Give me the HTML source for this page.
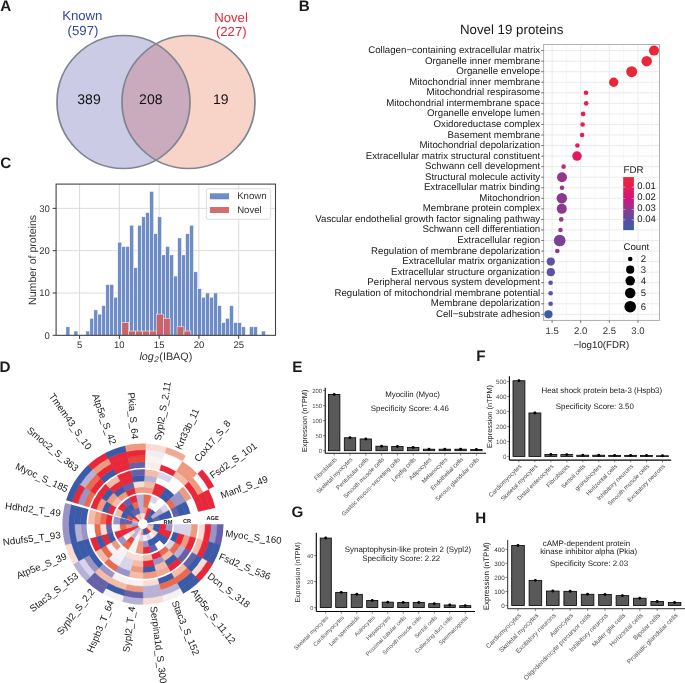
<!DOCTYPE html>
<html><head><meta charset="utf-8"><style>
html,body{margin:0;padding:0;background:#fff;width:685px;height:683px;overflow:hidden}
svg{display:block;font-family:"Liberation Sans", sans-serif;will-change:transform;text-rendering:geometricPrecision}
</style></head><body>
<svg width="685" height="683" viewBox="0 0 685 683">
<defs><clipPath id="cL"><circle cx="123.5" cy="102.0" r="66.5"/></clipPath></defs>
<circle cx="123.5" cy="102.0" r="66.5" fill="#cbcbe6"/>
<circle cx="188.5" cy="102.0" r="66.5" fill="#f8d3c8"/>
<circle cx="188.5" cy="102.0" r="66.5" fill="#c9abbd" clip-path="url(#cL)"/>
<circle cx="123.5" cy="102.0" r="66.5" fill="none" stroke="#7d8590" stroke-width="1.7"/>
<circle cx="188.5" cy="102.0" r="66.5" fill="none" stroke="#7d8590" stroke-width="1.7"/>
<text x="82.3" y="20.2" font-size="13.2" fill="#3448a0" text-anchor="middle">Known</text>
<text x="83" y="34.5" font-size="13.2" fill="#3448a0" text-anchor="middle">(597)</text>
<text x="231" y="22.3" font-size="13.2" fill="#e42838" text-anchor="middle">Novel</text>
<text x="231.3" y="35.5" font-size="13.2" fill="#e42838" text-anchor="middle">(227)</text>
<text x="89" y="104.3" font-size="14" fill="#111" text-anchor="middle">389</text>
<text x="150.8" y="104.3" font-size="14" fill="#111" text-anchor="middle">208</text>
<text x="220.8" y="104.3" font-size="14" fill="#111" text-anchor="middle">19</text>
<rect x="543.6" y="44.5" width="115.85000000000002" height="275.95" fill="#fff"/>
<line x1="566.41" y1="44.5" x2="566.41" y2="320.45" stroke="#f2f2f2" stroke-width="0.6"/>
<line x1="595.04" y1="44.5" x2="595.04" y2="320.45" stroke="#f2f2f2" stroke-width="0.6"/>
<line x1="623.66" y1="44.5" x2="623.66" y2="320.45" stroke="#f2f2f2" stroke-width="0.6"/>
<line x1="652.29" y1="44.5" x2="652.29" y2="320.45" stroke="#f2f2f2" stroke-width="0.6"/>
<line x1="552.10" y1="44.5" x2="552.10" y2="320.45" stroke="#ebebeb" stroke-width="1"/>
<line x1="580.73" y1="44.5" x2="580.73" y2="320.45" stroke="#ebebeb" stroke-width="1"/>
<line x1="609.35" y1="44.5" x2="609.35" y2="320.45" stroke="#ebebeb" stroke-width="1"/>
<line x1="637.98" y1="44.5" x2="637.98" y2="320.45" stroke="#ebebeb" stroke-width="1"/>
<line x1="543.6" y1="50.60" x2="659.45" y2="50.60" stroke="#ebebeb" stroke-width="1"/>
<line x1="543.6" y1="61.15" x2="659.45" y2="61.15" stroke="#ebebeb" stroke-width="1"/>
<line x1="543.6" y1="71.70" x2="659.45" y2="71.70" stroke="#ebebeb" stroke-width="1"/>
<line x1="543.6" y1="82.25" x2="659.45" y2="82.25" stroke="#ebebeb" stroke-width="1"/>
<line x1="543.6" y1="92.80" x2="659.45" y2="92.80" stroke="#ebebeb" stroke-width="1"/>
<line x1="543.6" y1="103.35" x2="659.45" y2="103.35" stroke="#ebebeb" stroke-width="1"/>
<line x1="543.6" y1="113.90" x2="659.45" y2="113.90" stroke="#ebebeb" stroke-width="1"/>
<line x1="543.6" y1="124.45" x2="659.45" y2="124.45" stroke="#ebebeb" stroke-width="1"/>
<line x1="543.6" y1="135.00" x2="659.45" y2="135.00" stroke="#ebebeb" stroke-width="1"/>
<line x1="543.6" y1="145.55" x2="659.45" y2="145.55" stroke="#ebebeb" stroke-width="1"/>
<line x1="543.6" y1="156.10" x2="659.45" y2="156.10" stroke="#ebebeb" stroke-width="1"/>
<line x1="543.6" y1="166.65" x2="659.45" y2="166.65" stroke="#ebebeb" stroke-width="1"/>
<line x1="543.6" y1="177.20" x2="659.45" y2="177.20" stroke="#ebebeb" stroke-width="1"/>
<line x1="543.6" y1="187.75" x2="659.45" y2="187.75" stroke="#ebebeb" stroke-width="1"/>
<line x1="543.6" y1="198.30" x2="659.45" y2="198.30" stroke="#ebebeb" stroke-width="1"/>
<line x1="543.6" y1="208.85" x2="659.45" y2="208.85" stroke="#ebebeb" stroke-width="1"/>
<line x1="543.6" y1="219.40" x2="659.45" y2="219.40" stroke="#ebebeb" stroke-width="1"/>
<line x1="543.6" y1="229.95" x2="659.45" y2="229.95" stroke="#ebebeb" stroke-width="1"/>
<line x1="543.6" y1="240.50" x2="659.45" y2="240.50" stroke="#ebebeb" stroke-width="1"/>
<line x1="543.6" y1="251.05" x2="659.45" y2="251.05" stroke="#ebebeb" stroke-width="1"/>
<line x1="543.6" y1="261.60" x2="659.45" y2="261.60" stroke="#ebebeb" stroke-width="1"/>
<line x1="543.6" y1="272.15" x2="659.45" y2="272.15" stroke="#ebebeb" stroke-width="1"/>
<line x1="543.6" y1="282.70" x2="659.45" y2="282.70" stroke="#ebebeb" stroke-width="1"/>
<line x1="543.6" y1="293.25" x2="659.45" y2="293.25" stroke="#ebebeb" stroke-width="1"/>
<line x1="543.6" y1="303.80" x2="659.45" y2="303.80" stroke="#ebebeb" stroke-width="1"/>
<line x1="543.6" y1="314.35" x2="659.45" y2="314.35" stroke="#ebebeb" stroke-width="1"/>
<rect x="543.6" y="44.5" width="115.85000000000002" height="275.95" fill="none" stroke="#b0b0b0" stroke-width="1"/>
<line x1="541.2" y1="50.60" x2="543.6" y2="50.60" stroke="#444" stroke-width="0.75"/>
<text x="540.2" y="53.10" font-size="9.7" fill="#1a1a1a" text-anchor="end">Collagen−containing extracellular matrix</text>
<circle cx="654.0" cy="50.60" r="5.0" fill="#e8283a"/>
<line x1="541.2" y1="61.15" x2="543.6" y2="61.15" stroke="#444" stroke-width="0.75"/>
<text x="540.2" y="63.65" font-size="9.7" fill="#1a1a1a" text-anchor="end">Organelle inner membrane</text>
<circle cx="646.7" cy="61.15" r="5.25" fill="#e8283a"/>
<line x1="541.2" y1="71.70" x2="543.6" y2="71.70" stroke="#444" stroke-width="0.75"/>
<text x="540.2" y="74.20" font-size="9.7" fill="#1a1a1a" text-anchor="end">Organelle envelope</text>
<circle cx="631.7" cy="71.70" r="5.5" fill="#e8283a"/>
<line x1="541.2" y1="82.25" x2="543.6" y2="82.25" stroke="#444" stroke-width="0.75"/>
<text x="540.2" y="84.75" font-size="9.7" fill="#1a1a1a" text-anchor="end">Mitochondrial inner membrane</text>
<circle cx="613.7" cy="82.25" r="4.65" fill="#e8283a"/>
<line x1="541.2" y1="92.80" x2="543.6" y2="92.80" stroke="#444" stroke-width="0.75"/>
<text x="540.2" y="95.30" font-size="9.7" fill="#1a1a1a" text-anchor="end">Mitochondrial respirasome</text>
<circle cx="586.0" cy="92.80" r="2.3" fill="#e81e52"/>
<line x1="541.2" y1="103.35" x2="543.6" y2="103.35" stroke="#444" stroke-width="0.75"/>
<text x="540.2" y="105.85" font-size="9.7" fill="#1a1a1a" text-anchor="end">Mitochondrial intermembrane space</text>
<circle cx="586.2" cy="103.35" r="2.3" fill="#e81e52"/>
<line x1="541.2" y1="113.90" x2="543.6" y2="113.90" stroke="#444" stroke-width="0.75"/>
<text x="540.2" y="116.40" font-size="9.7" fill="#1a1a1a" text-anchor="end">Organelle envelope lumen</text>
<circle cx="583.1" cy="113.90" r="2.3" fill="#e81c56"/>
<line x1="541.2" y1="124.45" x2="543.6" y2="124.45" stroke="#444" stroke-width="0.75"/>
<text x="540.2" y="126.95" font-size="9.7" fill="#1a1a1a" text-anchor="end">Oxidoreductase complex</text>
<circle cx="582.6" cy="124.45" r="2.3" fill="#e81c56"/>
<line x1="541.2" y1="135.00" x2="543.6" y2="135.00" stroke="#444" stroke-width="0.75"/>
<text x="540.2" y="137.50" font-size="9.7" fill="#1a1a1a" text-anchor="end">Basement membrane</text>
<circle cx="582.1" cy="135.00" r="2.3" fill="#e81c56"/>
<line x1="541.2" y1="145.55" x2="543.6" y2="145.55" stroke="#444" stroke-width="0.75"/>
<text x="540.2" y="148.05" font-size="9.7" fill="#1a1a1a" text-anchor="end">Mitochondrial depolarization</text>
<circle cx="577.4" cy="145.55" r="2.3" fill="#e6195e"/>
<line x1="541.2" y1="156.10" x2="543.6" y2="156.10" stroke="#444" stroke-width="0.75"/>
<text x="540.2" y="158.60" font-size="9.7" fill="#1a1a1a" text-anchor="end">Extracellular matrix structural constituent</text>
<circle cx="577.0" cy="156.10" r="4.75" fill="#e6195e"/>
<line x1="541.2" y1="166.65" x2="543.6" y2="166.65" stroke="#444" stroke-width="0.75"/>
<text x="540.2" y="169.15" font-size="9.7" fill="#1a1a1a" text-anchor="end">Schwann cell development</text>
<circle cx="563.6" cy="166.65" r="2.3" fill="#c0288a"/>
<line x1="541.2" y1="177.20" x2="543.6" y2="177.20" stroke="#444" stroke-width="0.75"/>
<text x="540.2" y="179.70" font-size="9.7" fill="#1a1a1a" text-anchor="end">Structural molecule activity</text>
<circle cx="562.0" cy="177.20" r="5.0" fill="#98348e"/>
<line x1="541.2" y1="187.75" x2="543.6" y2="187.75" stroke="#444" stroke-width="0.75"/>
<text x="540.2" y="190.25" font-size="9.7" fill="#1a1a1a" text-anchor="end">Extracellular matrix binding</text>
<circle cx="562.0" cy="187.75" r="2.3" fill="#a0358e"/>
<line x1="541.2" y1="198.30" x2="543.6" y2="198.30" stroke="#444" stroke-width="0.75"/>
<text x="540.2" y="200.80" font-size="9.7" fill="#1a1a1a" text-anchor="end">Mitochondrion</text>
<circle cx="561.8" cy="198.30" r="5.25" fill="#8c3890"/>
<line x1="541.2" y1="208.85" x2="543.6" y2="208.85" stroke="#444" stroke-width="0.75"/>
<text x="540.2" y="211.35" font-size="9.7" fill="#1a1a1a" text-anchor="end">Membrane protein complex</text>
<circle cx="561.8" cy="208.85" r="5.0" fill="#8c3890"/>
<line x1="541.2" y1="219.40" x2="543.6" y2="219.40" stroke="#444" stroke-width="0.75"/>
<text x="540.2" y="221.90" font-size="9.7" fill="#1a1a1a" text-anchor="end">Vascular endothelial growth factor signaling pathway</text>
<circle cx="561.2" cy="219.40" r="2.3" fill="#963a8e"/>
<line x1="541.2" y1="229.95" x2="543.6" y2="229.95" stroke="#444" stroke-width="0.75"/>
<text x="540.2" y="232.45" font-size="9.7" fill="#1a1a1a" text-anchor="end">Schwann cell differentiation</text>
<circle cx="560.5" cy="229.95" r="2.3" fill="#923a8e"/>
<line x1="541.2" y1="240.50" x2="543.6" y2="240.50" stroke="#444" stroke-width="0.75"/>
<text x="540.2" y="243.00" font-size="9.7" fill="#1a1a1a" text-anchor="end">Extracellular region</text>
<circle cx="559.7" cy="240.50" r="5.85" fill="#7a4296"/>
<line x1="541.2" y1="251.05" x2="543.6" y2="251.05" stroke="#444" stroke-width="0.75"/>
<text x="540.2" y="253.55" font-size="9.7" fill="#1a1a1a" text-anchor="end">Regulation of membrane depolarization</text>
<circle cx="557.3" cy="251.05" r="2.3" fill="#8a3a8c"/>
<line x1="541.2" y1="261.60" x2="543.6" y2="261.60" stroke="#444" stroke-width="0.75"/>
<text x="540.2" y="264.10" font-size="9.7" fill="#1a1a1a" text-anchor="end">Extracellular matrix organization</text>
<circle cx="550.8" cy="261.60" r="4.1" fill="#5e52a0"/>
<line x1="541.2" y1="272.15" x2="543.6" y2="272.15" stroke="#444" stroke-width="0.75"/>
<text x="540.2" y="274.65" font-size="9.7" fill="#1a1a1a" text-anchor="end">Extracellular structure organization</text>
<circle cx="550.8" cy="272.15" r="4.1" fill="#5e52a0"/>
<line x1="541.2" y1="282.70" x2="543.6" y2="282.70" stroke="#444" stroke-width="0.75"/>
<text x="540.2" y="285.20" font-size="9.7" fill="#1a1a1a" text-anchor="end">Peripheral nervous system development</text>
<circle cx="550.6" cy="282.70" r="2.3" fill="#5a54a2"/>
<line x1="541.2" y1="293.25" x2="543.6" y2="293.25" stroke="#444" stroke-width="0.75"/>
<text x="540.2" y="295.75" font-size="9.7" fill="#1a1a1a" text-anchor="end">Regulation of mitochondrial membrane potential</text>
<circle cx="550.6" cy="293.25" r="2.3" fill="#5a54a2"/>
<line x1="541.2" y1="303.80" x2="543.6" y2="303.80" stroke="#444" stroke-width="0.75"/>
<text x="540.2" y="306.30" font-size="9.7" fill="#1a1a1a" text-anchor="end">Membrane depolarization</text>
<circle cx="550.6" cy="303.80" r="2.3" fill="#5a54a2"/>
<line x1="541.2" y1="314.35" x2="543.6" y2="314.35" stroke="#444" stroke-width="0.75"/>
<text x="540.2" y="316.85" font-size="9.7" fill="#1a1a1a" text-anchor="end">Cell−substrate adhesion</text>
<circle cx="548.4" cy="314.35" r="4.1" fill="#3f5aa8"/>
<line x1="552.10" y1="320.45" x2="552.10" y2="322.84999999999997" stroke="#444" stroke-width="0.75"/>
<text x="552.10" y="333.55" font-size="9.5" fill="#333" text-anchor="middle">1.5</text>
<line x1="580.73" y1="320.45" x2="580.73" y2="322.84999999999997" stroke="#444" stroke-width="0.75"/>
<text x="580.73" y="333.55" font-size="9.5" fill="#333" text-anchor="middle">2.0</text>
<line x1="609.35" y1="320.45" x2="609.35" y2="322.84999999999997" stroke="#444" stroke-width="0.75"/>
<text x="609.35" y="333.55" font-size="9.5" fill="#333" text-anchor="middle">2.5</text>
<line x1="637.98" y1="320.45" x2="637.98" y2="322.84999999999997" stroke="#444" stroke-width="0.75"/>
<text x="637.98" y="333.55" font-size="9.5" fill="#333" text-anchor="middle">3.0</text>
<text x="601.3" y="348" font-size="9.7" fill="#1a1a1a" text-anchor="middle">−log10(FDR)</text>
<text x="459.9" y="34" font-size="13.3" fill="#1a1a1a">Novel 19 proteins</text>
<defs><linearGradient id="fdr" x1="0" y1="0" x2="0" y2="1"><stop offset="0" stop-color="#e8283a"/><stop offset="0.19" stop-color="#e91c52"/><stop offset="0.40" stop-color="#d5127e"/><stop offset="0.52" stop-color="#b52488"/><stop offset="0.61" stop-color="#8e3a8e"/><stop offset="0.81" stop-color="#5a4ea0"/><stop offset="1" stop-color="#3d5aa9"/></linearGradient></defs>
<text x="623.5" y="172.7" font-size="9.7" fill="#1a1a1a">FDR</text>
<rect x="623.2" y="177.1" width="10.7" height="53" fill="url(#fdr)"/>
<line x1="623.2" y1="187.2" x2="625.3" y2="187.2" stroke="#fff" stroke-width="0.6" opacity="0.8"/>
<line x1="631.8" y1="187.2" x2="633.9" y2="187.2" stroke="#fff" stroke-width="0.6" opacity="0.8"/>
<text x="637.3" y="189.1" font-size="9.5" fill="#1a1a1a">0.01</text>
<line x1="623.2" y1="198.3" x2="625.3" y2="198.3" stroke="#fff" stroke-width="0.6" opacity="0.8"/>
<line x1="631.8" y1="198.3" x2="633.9" y2="198.3" stroke="#fff" stroke-width="0.6" opacity="0.8"/>
<text x="637.3" y="200.20000000000002" font-size="9.5" fill="#1a1a1a">0.02</text>
<line x1="623.2" y1="209.4" x2="625.3" y2="209.4" stroke="#fff" stroke-width="0.6" opacity="0.8"/>
<line x1="631.8" y1="209.4" x2="633.9" y2="209.4" stroke="#fff" stroke-width="0.6" opacity="0.8"/>
<text x="637.3" y="211.3" font-size="9.5" fill="#1a1a1a">0.03</text>
<line x1="623.2" y1="219.8" x2="625.3" y2="219.8" stroke="#fff" stroke-width="0.6" opacity="0.8"/>
<line x1="631.8" y1="219.8" x2="633.9" y2="219.8" stroke="#fff" stroke-width="0.6" opacity="0.8"/>
<text x="637.3" y="221.70000000000002" font-size="9.5" fill="#1a1a1a">0.04</text>
<text x="623.4" y="250.3" font-size="9.7" fill="#1a1a1a">Count</text>
<circle cx="630.2" cy="259.0" r="2.3" fill="#000"/>
<text x="640.7" y="261.8" font-size="9.5" fill="#1a1a1a">2</text>
<circle cx="630.2" cy="269.7" r="4.1" fill="#000"/>
<text x="640.7" y="272.5" font-size="9.5" fill="#1a1a1a">3</text>
<circle cx="630.2" cy="280.8" r="4.75" fill="#000"/>
<text x="640.7" y="283.6" font-size="9.5" fill="#1a1a1a">4</text>
<circle cx="630.2" cy="293.0" r="5.25" fill="#000"/>
<text x="640.7" y="295.8" font-size="9.5" fill="#1a1a1a">5</text>
<circle cx="630.2" cy="306.7" r="5.8" fill="#000"/>
<text x="640.7" y="309.5" font-size="9.5" fill="#1a1a1a">6</text>
<line x1="79.59" y1="184.1" x2="79.59" y2="335.35" stroke="#dcdcdc" stroke-width="1"/>
<line x1="119.37" y1="184.1" x2="119.37" y2="335.35" stroke="#dcdcdc" stroke-width="1"/>
<line x1="159.15" y1="184.1" x2="159.15" y2="335.35" stroke="#dcdcdc" stroke-width="1"/>
<line x1="198.92" y1="184.1" x2="198.92" y2="335.35" stroke="#dcdcdc" stroke-width="1"/>
<line x1="238.69" y1="184.1" x2="238.69" y2="335.35" stroke="#dcdcdc" stroke-width="1"/>
<line x1="56.1" y1="292.97" x2="275.5" y2="292.97" stroke="#dcdcdc" stroke-width="1"/>
<line x1="56.1" y1="250.67" x2="275.5" y2="250.67" stroke="#dcdcdc" stroke-width="1"/>
<line x1="56.1" y1="208.37" x2="275.5" y2="208.37" stroke="#dcdcdc" stroke-width="1"/>
<rect x="65.90" y="326.81" width="3.99" height="8.46" fill="#6e8cc6" stroke="#fff" stroke-width="0.5"/>
<rect x="73.88" y="331.04" width="3.99" height="4.23" fill="#6e8cc6" stroke="#fff" stroke-width="0.5"/>
<rect x="85.85" y="331.04" width="3.99" height="4.23" fill="#6e8cc6" stroke="#fff" stroke-width="0.5"/>
<rect x="89.84" y="318.35" width="3.99" height="16.92" fill="#6e8cc6" stroke="#fff" stroke-width="0.5"/>
<rect x="93.83" y="309.89" width="3.99" height="25.38" fill="#6e8cc6" stroke="#fff" stroke-width="0.5"/>
<rect x="97.82" y="314.12" width="3.99" height="21.15" fill="#6e8cc6" stroke="#fff" stroke-width="0.5"/>
<rect x="101.81" y="305.66" width="3.99" height="29.61" fill="#6e8cc6" stroke="#fff" stroke-width="0.5"/>
<rect x="105.80" y="284.51" width="3.99" height="50.76" fill="#6e8cc6" stroke="#fff" stroke-width="0.5"/>
<rect x="109.79" y="284.51" width="3.99" height="50.76" fill="#6e8cc6" stroke="#fff" stroke-width="0.5"/>
<rect x="113.78" y="297.20" width="3.99" height="38.07" fill="#6e8cc6" stroke="#fff" stroke-width="0.5"/>
<rect x="117.77" y="242.21" width="3.99" height="93.06" fill="#6e8cc6" stroke="#fff" stroke-width="0.5"/>
<rect x="121.76" y="246.44" width="3.99" height="88.83" fill="#6e8cc6" stroke="#fff" stroke-width="0.5"/>
<rect x="125.75" y="246.44" width="3.99" height="88.83" fill="#6e8cc6" stroke="#fff" stroke-width="0.5"/>
<rect x="129.74" y="225.29" width="3.99" height="109.98" fill="#6e8cc6" stroke="#fff" stroke-width="0.5"/>
<rect x="133.73" y="267.59" width="3.99" height="67.68" fill="#6e8cc6" stroke="#fff" stroke-width="0.5"/>
<rect x="137.72" y="225.29" width="3.99" height="109.98" fill="#6e8cc6" stroke="#fff" stroke-width="0.5"/>
<rect x="141.71" y="216.83" width="3.99" height="118.44" fill="#6e8cc6" stroke="#fff" stroke-width="0.5"/>
<rect x="145.70" y="212.60" width="3.99" height="122.67" fill="#6e8cc6" stroke="#fff" stroke-width="0.5"/>
<rect x="149.69" y="191.45" width="3.99" height="143.82" fill="#6e8cc6" stroke="#fff" stroke-width="0.5"/>
<rect x="153.68" y="233.75" width="3.99" height="101.52" fill="#6e8cc6" stroke="#fff" stroke-width="0.5"/>
<rect x="157.67" y="216.83" width="3.99" height="118.44" fill="#6e8cc6" stroke="#fff" stroke-width="0.5"/>
<rect x="161.66" y="254.90" width="3.99" height="80.37" fill="#6e8cc6" stroke="#fff" stroke-width="0.5"/>
<rect x="165.65" y="246.44" width="3.99" height="88.83" fill="#6e8cc6" stroke="#fff" stroke-width="0.5"/>
<rect x="169.64" y="254.90" width="3.99" height="80.37" fill="#6e8cc6" stroke="#fff" stroke-width="0.5"/>
<rect x="173.63" y="276.05" width="3.99" height="59.22" fill="#6e8cc6" stroke="#fff" stroke-width="0.5"/>
<rect x="177.62" y="237.98" width="3.99" height="97.29" fill="#6e8cc6" stroke="#fff" stroke-width="0.5"/>
<rect x="181.61" y="254.90" width="3.99" height="80.37" fill="#6e8cc6" stroke="#fff" stroke-width="0.5"/>
<rect x="185.60" y="233.75" width="3.99" height="101.52" fill="#6e8cc6" stroke="#fff" stroke-width="0.5"/>
<rect x="189.59" y="225.29" width="3.99" height="109.98" fill="#6e8cc6" stroke="#fff" stroke-width="0.5"/>
<rect x="193.58" y="271.82" width="3.99" height="63.45" fill="#6e8cc6" stroke="#fff" stroke-width="0.5"/>
<rect x="197.57" y="288.74" width="3.99" height="46.53" fill="#6e8cc6" stroke="#fff" stroke-width="0.5"/>
<rect x="201.56" y="297.20" width="3.99" height="38.07" fill="#6e8cc6" stroke="#fff" stroke-width="0.5"/>
<rect x="205.55" y="292.97" width="3.99" height="42.30" fill="#6e8cc6" stroke="#fff" stroke-width="0.5"/>
<rect x="209.54" y="297.20" width="3.99" height="38.07" fill="#6e8cc6" stroke="#fff" stroke-width="0.5"/>
<rect x="213.53" y="292.97" width="3.99" height="42.30" fill="#6e8cc6" stroke="#fff" stroke-width="0.5"/>
<rect x="217.52" y="305.66" width="3.99" height="29.61" fill="#6e8cc6" stroke="#fff" stroke-width="0.5"/>
<rect x="221.51" y="322.58" width="3.99" height="12.69" fill="#6e8cc6" stroke="#fff" stroke-width="0.5"/>
<rect x="225.50" y="318.35" width="3.99" height="16.92" fill="#6e8cc6" stroke="#fff" stroke-width="0.5"/>
<rect x="229.49" y="305.66" width="3.99" height="29.61" fill="#6e8cc6" stroke="#fff" stroke-width="0.5"/>
<rect x="233.48" y="322.58" width="3.99" height="12.69" fill="#6e8cc6" stroke="#fff" stroke-width="0.5"/>
<rect x="237.47" y="322.58" width="3.99" height="12.69" fill="#6e8cc6" stroke="#fff" stroke-width="0.5"/>
<rect x="241.46" y="326.81" width="3.99" height="8.46" fill="#6e8cc6" stroke="#fff" stroke-width="0.5"/>
<rect x="249.44" y="326.81" width="3.99" height="8.46" fill="#6e8cc6" stroke="#fff" stroke-width="0.5"/>
<rect x="253.43" y="326.81" width="3.99" height="8.46" fill="#6e8cc6" stroke="#fff" stroke-width="0.5"/>
<rect x="261.41" y="331.04" width="3.99" height="4.23" fill="#6e8cc6" stroke="#fff" stroke-width="0.5"/>
<rect x="121.85" y="322.58" width="6.90" height="12.69" fill="#c9646c" stroke="#fff" stroke-width="0.5"/>
<rect x="128.75" y="331.04" width="6.90" height="4.23" fill="#c9646c" stroke="#fff" stroke-width="0.5"/>
<rect x="135.65" y="331.04" width="6.90" height="4.23" fill="#c9646c" stroke="#fff" stroke-width="0.5"/>
<rect x="142.55" y="331.04" width="6.90" height="4.23" fill="#c9646c" stroke="#fff" stroke-width="0.5"/>
<rect x="149.45" y="331.04" width="6.90" height="4.23" fill="#c9646c" stroke="#fff" stroke-width="0.5"/>
<rect x="156.35" y="314.12" width="6.90" height="21.15" fill="#c9646c" stroke="#fff" stroke-width="0.5"/>
<rect x="163.25" y="318.35" width="6.90" height="16.92" fill="#c9646c" stroke="#fff" stroke-width="0.5"/>
<rect x="177.05" y="326.81" width="6.90" height="8.46" fill="#c9646c" stroke="#fff" stroke-width="0.5"/>
<rect x="183.95" y="331.04" width="6.90" height="4.23" fill="#c9646c" stroke="#fff" stroke-width="0.5"/>
<rect x="56.1" y="184.1" width="219.40" height="151.25" fill="none" stroke="#444" stroke-width="1.1"/>
<line x1="52.6" y1="335.27" x2="56.1" y2="335.27" stroke="#3a3a3a" stroke-width="1"/>
<text x="49.90" y="338.67" font-size="9.5" fill="#333" text-anchor="end">0</text>
<line x1="52.6" y1="292.97" x2="56.1" y2="292.97" stroke="#3a3a3a" stroke-width="1"/>
<text x="49.90" y="296.37" font-size="9.5" fill="#333" text-anchor="end">10</text>
<line x1="52.6" y1="250.67" x2="56.1" y2="250.67" stroke="#3a3a3a" stroke-width="1"/>
<text x="49.90" y="254.07" font-size="9.5" fill="#333" text-anchor="end">20</text>
<line x1="52.6" y1="208.37" x2="56.1" y2="208.37" stroke="#3a3a3a" stroke-width="1"/>
<text x="49.90" y="211.77" font-size="9.5" fill="#333" text-anchor="end">30</text>
<line x1="79.59" y1="335.35" x2="79.59" y2="338.85" stroke="#3a3a3a" stroke-width="1"/>
<text x="79.59" y="348.3" font-size="9.5" fill="#333" text-anchor="middle">5</text>
<line x1="119.37" y1="335.35" x2="119.37" y2="338.85" stroke="#3a3a3a" stroke-width="1"/>
<text x="119.37" y="348.3" font-size="9.5" fill="#333" text-anchor="middle">10</text>
<line x1="159.15" y1="335.35" x2="159.15" y2="338.85" stroke="#3a3a3a" stroke-width="1"/>
<text x="159.15" y="348.3" font-size="9.5" fill="#333" text-anchor="middle">15</text>
<line x1="198.92" y1="335.35" x2="198.92" y2="338.85" stroke="#3a3a3a" stroke-width="1"/>
<text x="198.92" y="348.3" font-size="9.5" fill="#333" text-anchor="middle">20</text>
<line x1="238.69" y1="335.35" x2="238.69" y2="338.85" stroke="#3a3a3a" stroke-width="1"/>
<text x="238.69" y="348.3" font-size="9.5" fill="#333" text-anchor="middle">25</text>
<text transform="translate(35.6,259.9) rotate(-90)" font-size="10.6" fill="#333" text-anchor="middle">Number of proteins</text>
<text x="165.9" y="359.9" font-size="10.8" fill="#333" text-anchor="middle"><tspan font-style="italic">log</tspan><tspan font-style="italic" font-size="8.2" dy="2.2" dx="0.3">2</tspan><tspan dy="-2.2" dx="0.6">(IBAQ)</tspan></text>
<rect x="206.4" y="188.7" width="64.3" height="30.6" rx="2" fill="#fff" fill-opacity="0.8" stroke="#d4d4d4" stroke-width="0.8"/>
<rect x="209.9" y="193.3" width="19.1" height="6.0" fill="#6e8cc6"/>
<rect x="209.9" y="207.0" width="19.1" height="6.0" fill="#d06e70"/>
<text x="237.2" y="199.3" font-size="9.6" fill="#333">Known</text>
<text x="237.2" y="213.0" font-size="9.6" fill="#333">Novel</text>
<defs><clipPath id="trk0"><path d="M172.550,524.126A29.6,29.6 0 1 1 114.383,516.349L138.124,522.791A5.0,5.0 0 1 0 147.950,524.104ZM114.686,515.308A29.6,29.6 0 0 1 171.835,517.633L147.829,523.008A5.0,5.0 0 0 0 138.176,522.615Z"/></clipPath><clipPath id="trk1"><path d="M197.700,524.148A54.75,54.75 0 1 1 90.110,509.764L112.646,515.878A31.4,31.4 0 1 0 174.350,524.127ZM90.671,507.837A54.75,54.75 0 0 1 196.377,512.138L173.591,517.240A31.4,31.4 0 0 0 112.967,514.773Z"/></clipPath><clipPath id="trk2"><path d="M223.450,524.170A80.5,80.5 0 1 1 65.259,503.021L88.470,509.318A56.45,56.45 0 1 0 199.400,524.149ZM66.083,500.188A80.5,80.5 0 0 1 221.505,506.512L198.036,511.767A56.45,56.45 0 0 0 89.048,507.332Z"/></clipPath></defs>
<g clip-path="url(#trk0)"><path d="M154.099,523.954A11.15,11.15 0 0 1 153.717,526.997L147.199,525.243A4.4,4.4 0 0 0 147.350,524.042Z" fill="#b8b1d6" stroke="#b8b1d6" stroke-width="0.6"/><path d="M160.249,523.874A17.3,17.3 0 0 1 159.656,528.595L153.717,526.997A11.15,11.15 0 0 0 154.099,523.954Z" fill="#3b5ba9" stroke="#3b5ba9" stroke-width="0.6"/><path d="M166.398,523.793A23.450000000000003,23.450000000000003 0 0 1 165.595,530.193L159.656,528.595A17.3,17.3 0 0 0 160.249,523.874Z" fill="#e8283a" stroke="#e8283a" stroke-width="0.6"/><path d="M173.147,523.705A30.200000000000003,30.200000000000003 0 0 1 172.113,531.947L165.595,530.193A23.450000000000003,23.450000000000003 0 0 0 166.398,523.793Z" fill="#9a94c6" stroke="#9a94c6" stroke-width="0.6"/><path d="M153.717,526.997A11.15,11.15 0 0 1 152.599,529.687L146.758,526.305A4.4,4.4 0 0 0 147.199,525.243Z" fill="#f3bca9" stroke="#f3bca9" stroke-width="0.6"/><path d="M159.656,528.595A17.3,17.3 0 0 1 157.922,532.768L152.599,529.687A11.15,11.15 0 0 0 153.717,526.997Z" fill="#3b5ba9" stroke="#3b5ba9" stroke-width="0.6"/><path d="M165.595,530.193A23.450000000000003,23.450000000000003 0 0 1 163.244,535.850L157.922,532.768A17.3,17.3 0 0 0 159.656,528.595Z" fill="#e8283a" stroke="#e8283a" stroke-width="0.6"/><path d="M172.113,531.947A30.200000000000003,30.200000000000003 0 0 1 169.085,539.232L163.244,535.850A23.450000000000003,23.450000000000003 0 0 0 165.595,530.193Z" fill="#e8283a" stroke="#e8283a" stroke-width="0.6"/><path d="M152.599,529.687A11.15,11.15 0 0 1 150.823,531.995L146.057,527.216A4.4,4.4 0 0 0 146.758,526.305Z" fill="#f3bca9" stroke="#f3bca9" stroke-width="0.6"/><path d="M157.922,532.768A17.3,17.3 0 0 1 155.166,536.350L150.823,531.995A11.15,11.15 0 0 0 152.599,529.687Z" fill="#f9ddd4" stroke="#f9ddd4" stroke-width="0.6"/><path d="M163.244,535.850A23.450000000000003,23.450000000000003 0 0 1 159.508,540.705L155.166,536.350A17.3,17.3 0 0 0 157.922,532.768Z" fill="#3b5ba9" stroke="#3b5ba9" stroke-width="0.6"/><path d="M169.085,539.232A30.200000000000003,30.200000000000003 0 0 1 164.275,545.484L159.508,540.705A23.450000000000003,23.450000000000003 0 0 0 163.244,535.850Z" fill="#3b5ba9" stroke="#3b5ba9" stroke-width="0.6"/><path d="M150.823,531.995A11.15,11.15 0 0 1 148.510,533.765L145.144,527.914A4.4,4.4 0 0 0 146.057,527.216Z" fill="#e8283a" stroke="#e8283a" stroke-width="0.6"/><path d="M155.166,536.350A17.3,17.3 0 0 1 151.576,539.096L148.510,533.765A11.15,11.15 0 0 0 150.823,531.995Z" fill="#f6f2f4" stroke="#f6f2f4" stroke-width="0.6"/><path d="M159.508,540.705A23.450000000000003,23.450000000000003 0 0 1 154.643,544.427L151.576,539.096A17.3,17.3 0 0 0 155.166,536.350Z" fill="#3b5ba9" stroke="#3b5ba9" stroke-width="0.6"/><path d="M164.275,545.484A30.200000000000003,30.200000000000003 0 0 1 158.009,550.278L154.643,544.427A23.450000000000003,23.450000000000003 0 0 0 159.508,540.705Z" fill="#ffffff" stroke="#ffffff" stroke-width="0.6"/><path d="M148.510,533.765A11.15,11.15 0 0 1 145.817,534.875L144.081,528.352A4.4,4.4 0 0 0 145.144,527.914Z" fill="#3b5ba9" stroke="#3b5ba9" stroke-width="0.6"/><path d="M151.576,539.096A17.3,17.3 0 0 1 147.398,540.818L145.817,534.875A11.15,11.15 0 0 0 148.510,533.765Z" fill="#d9d4e9" stroke="#d9d4e9" stroke-width="0.6"/><path d="M154.643,544.427A23.450000000000003,23.450000000000003 0 0 1 148.980,546.762L147.398,540.818A17.3,17.3 0 0 0 151.576,539.096Z" fill="#3b5ba9" stroke="#3b5ba9" stroke-width="0.6"/><path d="M158.009,550.278A30.200000000000003,30.200000000000003 0 0 1 150.715,553.285L148.980,546.762A23.450000000000003,23.450000000000003 0 0 0 154.643,544.427Z" fill="#6461aa" stroke="#6461aa" stroke-width="0.6"/><path d="M145.817,534.875A11.15,11.15 0 0 1 142.929,535.250L142.942,528.500A4.4,4.4 0 0 0 144.081,528.352Z" fill="#3b5ba9" stroke="#3b5ba9" stroke-width="0.6"/><path d="M147.398,540.818A17.3,17.3 0 0 1 142.917,541.400L142.929,535.250A11.15,11.15 0 0 0 145.817,534.875Z" fill="#f6f2f4" stroke="#f6f2f4" stroke-width="0.6"/><path d="M148.980,546.762A23.450000000000003,23.450000000000003 0 0 1 142.905,547.550L142.917,541.400A17.3,17.3 0 0 0 147.398,540.818Z" fill="#9a94c6" stroke="#9a94c6" stroke-width="0.6"/><path d="M150.715,553.285A30.200000000000003,30.200000000000003 0 0 1 142.892,554.300L142.905,547.550A23.450000000000003,23.450000000000003 0 0 0 148.980,546.762Z" fill="#e8283a" stroke="#e8283a" stroke-width="0.6"/><path d="M142.929,535.250A11.15,11.15 0 0 1 140.042,534.864L141.802,528.348A4.4,4.4 0 0 0 142.942,528.500Z" fill="#ee9a80" stroke="#ee9a80" stroke-width="0.6"/><path d="M142.917,541.400A17.3,17.3 0 0 1 138.437,540.801L140.042,534.864A11.15,11.15 0 0 0 142.929,535.250Z" fill="#d9d4e9" stroke="#d9d4e9" stroke-width="0.6"/><path d="M142.905,547.550A23.450000000000003,23.450000000000003 0 0 1 136.833,546.738L138.437,540.801A17.3,17.3 0 0 0 142.917,541.400Z" fill="#ee9a80" stroke="#ee9a80" stroke-width="0.6"/><path d="M142.892,554.300A30.200000000000003,30.200000000000003 0 0 1 135.073,553.255L136.833,546.738A23.450000000000003,23.450000000000003 0 0 0 142.905,547.550Z" fill="#ee9a80" stroke="#ee9a80" stroke-width="0.6"/><path d="M140.042,534.864A11.15,11.15 0 0 1 137.353,533.744L140.741,527.906A4.4,4.4 0 0 0 141.802,528.348Z" fill="#f9ddd4" stroke="#f9ddd4" stroke-width="0.6"/><path d="M138.437,540.801A17.3,17.3 0 0 1 134.266,539.063L137.353,533.744A11.15,11.15 0 0 0 140.042,534.864Z" fill="#f6f2f4" stroke="#f6f2f4" stroke-width="0.6"/><path d="M136.833,546.738A23.450000000000003,23.450000000000003 0 0 1 131.179,544.382L134.266,539.063A17.3,17.3 0 0 0 138.437,540.801Z" fill="#f6f2f4" stroke="#f6f2f4" stroke-width="0.6"/><path d="M135.073,553.255A30.200000000000003,30.200000000000003 0 0 1 127.791,550.220L131.179,544.382A23.450000000000003,23.450000000000003 0 0 0 136.833,546.738Z" fill="#f6f2f4" stroke="#f6f2f4" stroke-width="0.6"/><path d="M137.353,533.744A11.15,11.15 0 0 1 135.047,531.965L139.831,527.204A4.4,4.4 0 0 0 140.741,527.906Z" fill="#b8b1d6" stroke="#b8b1d6" stroke-width="0.6"/><path d="M134.266,539.063A17.3,17.3 0 0 1 130.687,536.303L135.047,531.965A11.15,11.15 0 0 0 137.353,533.744Z" fill="#b8b1d6" stroke="#b8b1d6" stroke-width="0.6"/><path d="M131.179,544.382A23.450000000000003,23.450000000000003 0 0 1 126.328,540.641L130.687,536.303A17.3,17.3 0 0 0 134.266,539.063Z" fill="#e9473a" stroke="#e9473a" stroke-width="0.6"/><path d="M127.791,550.220A30.200000000000003,30.200000000000003 0 0 1 121.543,545.402L126.328,540.641A23.450000000000003,23.450000000000003 0 0 0 131.179,544.382Z" fill="#ea6a50" stroke="#ea6a50" stroke-width="0.6"/><path d="M135.047,531.965A11.15,11.15 0 0 1 133.279,529.650L139.134,526.290A4.4,4.4 0 0 0 139.831,527.204Z" fill="#b8b1d6" stroke="#b8b1d6" stroke-width="0.6"/><path d="M130.687,536.303A17.3,17.3 0 0 1 127.945,532.711L133.279,529.650A11.15,11.15 0 0 0 135.047,531.965Z" fill="#f9ddd4" stroke="#f9ddd4" stroke-width="0.6"/><path d="M126.328,540.641A23.450000000000003,23.450000000000003 0 0 1 122.611,535.772L127.945,532.711A17.3,17.3 0 0 0 130.687,536.303Z" fill="#f6f2f4" stroke="#f6f2f4" stroke-width="0.6"/><path d="M121.543,545.402A30.200000000000003,30.200000000000003 0 0 1 116.757,539.131L122.611,535.772A23.450000000000003,23.450000000000003 0 0 0 126.328,540.641Z" fill="#9a94c6" stroke="#9a94c6" stroke-width="0.6"/><path d="M133.279,529.650A11.15,11.15 0 0 1 132.172,526.956L138.697,525.227A4.4,4.4 0 0 0 139.134,526.290Z" fill="#e8283a" stroke="#e8283a" stroke-width="0.6"/><path d="M127.945,532.711A17.3,17.3 0 0 1 126.227,528.531L132.172,526.956A11.15,11.15 0 0 0 133.279,529.650Z" fill="#e8283a" stroke="#e8283a" stroke-width="0.6"/><path d="M122.611,535.772A23.450000000000003,23.450000000000003 0 0 1 120.282,530.106L126.227,528.531A17.3,17.3 0 0 0 127.945,532.711Z" fill="#e8283a" stroke="#e8283a" stroke-width="0.6"/><path d="M116.757,539.131A30.200000000000003,30.200000000000003 0 0 1 113.757,531.835L120.282,530.106A23.450000000000003,23.450000000000003 0 0 0 122.611,535.772Z" fill="#e8283a" stroke="#e8283a" stroke-width="0.6"/><path d="M132.172,526.956A11.15,11.15 0 0 1 131.800,524.067L138.550,524.087A4.4,4.4 0 0 0 138.697,525.227Z" fill="#9a94c6" stroke="#9a94c6" stroke-width="0.6"/><path d="M126.227,528.531A17.3,17.3 0 0 1 125.650,524.049L131.800,524.067A11.15,11.15 0 0 0 132.172,526.956Z" fill="#ee9a80" stroke="#ee9a80" stroke-width="0.6"/><path d="M120.282,530.106A23.450000000000003,23.450000000000003 0 0 1 119.500,524.030L125.650,524.049A17.3,17.3 0 0 0 126.227,528.531Z" fill="#ea6a50" stroke="#ea6a50" stroke-width="0.6"/><path d="M113.757,531.835A30.200000000000003,30.200000000000003 0 0 1 112.750,524.010L119.500,524.030A23.450000000000003,23.450000000000003 0 0 0 120.282,530.106Z" fill="#f6f2f4" stroke="#f6f2f4" stroke-width="0.6"/><path d="M131.800,524.067A11.15,11.15 0 0 1 132.231,521.030L138.720,522.889A4.4,4.4 0 0 0 138.550,524.087Z" fill="#b8b1d6" stroke="#b8b1d6" stroke-width="0.6"/><path d="M125.650,524.049A17.3,17.3 0 0 1 126.319,519.337L132.231,521.030A11.15,11.15 0 0 0 131.800,524.067Z" fill="#6461aa" stroke="#6461aa" stroke-width="0.6"/><path d="M119.500,524.030A23.450000000000003,23.450000000000003 0 0 1 120.406,517.644L126.319,519.337A17.3,17.3 0 0 0 125.650,524.049Z" fill="#6461aa" stroke="#6461aa" stroke-width="0.6"/><path d="M112.750,524.010A30.200000000000003,30.200000000000003 0 0 1 113.917,515.786L120.406,517.644A23.450000000000003,23.450000000000003 0 0 0 119.500,524.030Z" fill="#9a94c6" stroke="#9a94c6" stroke-width="0.6"/><path d="M132.258,520.937A11.15,11.15 0 0 1 133.524,518.144L139.230,521.749A4.4,4.4 0 0 0 138.731,522.852Z" fill="#ee9a80" stroke="#ee9a80" stroke-width="0.6"/><path d="M126.361,519.192A17.3,17.3 0 0 1 128.325,514.858L133.524,518.144A11.15,11.15 0 0 0 132.258,520.937Z" fill="#e9473a" stroke="#e9473a" stroke-width="0.6"/><path d="M120.463,517.448A23.450000000000003,23.450000000000003 0 0 1 123.126,511.573L128.325,514.858A17.3,17.3 0 0 0 126.361,519.192Z" fill="#3b5ba9" stroke="#3b5ba9" stroke-width="0.6"/><path d="M113.991,515.533A30.200000000000003,30.200000000000003 0 0 1 117.420,507.967L123.126,511.573A23.450000000000003,23.450000000000003 0 0 0 120.463,517.448Z" fill="#f3bca9" stroke="#f3bca9" stroke-width="0.6"/><path d="M133.524,518.144A11.15,11.15 0 0 1 135.389,515.906L139.966,520.866A4.4,4.4 0 0 0 139.230,521.749Z" fill="#e8283a" stroke="#e8283a" stroke-width="0.6"/><path d="M128.325,514.858A17.3,17.3 0 0 1 131.218,511.386L135.389,515.906A11.15,11.15 0 0 0 133.524,518.144Z" fill="#3b5ba9" stroke="#3b5ba9" stroke-width="0.6"/><path d="M123.126,511.573A23.450000000000003,23.450000000000003 0 0 1 127.047,506.866L131.218,511.386A17.3,17.3 0 0 0 128.325,514.858Z" fill="#3b5ba9" stroke="#3b5ba9" stroke-width="0.6"/><path d="M117.420,507.967A30.200000000000003,30.200000000000003 0 0 1 122.470,501.906L127.047,506.866A23.450000000000003,23.450000000000003 0 0 0 123.126,511.573Z" fill="#e8283a" stroke="#e8283a" stroke-width="0.6"/><path d="M135.389,515.906A11.15,11.15 0 0 1 137.769,514.227L140.905,520.204A4.4,4.4 0 0 0 139.966,520.866Z" fill="#f9ddd4" stroke="#f9ddd4" stroke-width="0.6"/><path d="M131.218,511.386A17.3,17.3 0 0 1 134.911,508.781L137.769,514.227A11.15,11.15 0 0 0 135.389,515.906Z" fill="#6461aa" stroke="#6461aa" stroke-width="0.6"/><path d="M127.047,506.866A23.450000000000003,23.450000000000003 0 0 1 132.053,503.336L134.911,508.781A17.3,17.3 0 0 0 131.218,511.386Z" fill="#3b5ba9" stroke="#3b5ba9" stroke-width="0.6"/><path d="M122.470,501.906A30.200000000000003,30.200000000000003 0 0 1 128.916,497.359L132.053,503.336A23.450000000000003,23.450000000000003 0 0 0 127.047,506.866Z" fill="#6461aa" stroke="#6461aa" stroke-width="0.6"/><path d="M137.769,514.227A11.15,11.15 0 0 1 140.503,513.222L141.984,519.807A4.4,4.4 0 0 0 140.905,520.204Z" fill="#f3bca9" stroke="#f3bca9" stroke-width="0.6"/><path d="M134.911,508.781A17.3,17.3 0 0 1 139.153,507.222L140.503,513.222A11.15,11.15 0 0 0 137.769,514.227Z" fill="#6461aa" stroke="#6461aa" stroke-width="0.6"/><path d="M132.053,503.336A23.450000000000003,23.450000000000003 0 0 1 137.803,501.222L139.153,507.222A17.3,17.3 0 0 0 134.911,508.781Z" fill="#ea6a50" stroke="#ea6a50" stroke-width="0.6"/><path d="M128.916,497.359A30.200000000000003,30.200000000000003 0 0 1 136.321,494.637L137.803,501.222A23.450000000000003,23.450000000000003 0 0 0 132.053,503.336Z" fill="#e8283a" stroke="#e8283a" stroke-width="0.6"/><path d="M140.503,513.222A11.15,11.15 0 0 1 143.403,512.959L143.129,519.704A4.4,4.4 0 0 0 141.984,519.807Z" fill="#f9ddd4" stroke="#f9ddd4" stroke-width="0.6"/><path d="M139.153,507.222A17.3,17.3 0 0 1 143.653,506.814L143.403,512.959A11.15,11.15 0 0 0 140.503,513.222Z" fill="#b8b1d6" stroke="#b8b1d6" stroke-width="0.6"/><path d="M137.803,501.222A23.450000000000003,23.450000000000003 0 0 1 143.903,500.669L143.653,506.814A17.3,17.3 0 0 0 139.153,507.222Z" fill="#b8b1d6" stroke="#b8b1d6" stroke-width="0.6"/><path d="M136.321,494.637A30.200000000000003,30.200000000000003 0 0 1 144.178,493.925L143.903,500.669A23.450000000000003,23.450000000000003 0 0 0 137.803,501.222Z" fill="#b8b1d6" stroke="#b8b1d6" stroke-width="0.6"/><path d="M143.403,512.959A11.15,11.15 0 0 1 146.273,513.457L144.261,519.900A4.4,4.4 0 0 0 143.129,519.704Z" fill="#f9ddd4" stroke="#f9ddd4" stroke-width="0.6"/><path d="M143.653,506.814A17.3,17.3 0 0 1 148.106,507.586L146.273,513.457A11.15,11.15 0 0 0 143.403,512.959Z" fill="#ee9a80" stroke="#ee9a80" stroke-width="0.6"/><path d="M143.903,500.669A23.450000000000003,23.450000000000003 0 0 1 149.939,501.716L148.106,507.586A17.3,17.3 0 0 0 143.653,506.814Z" fill="#ea6a50" stroke="#ea6a50" stroke-width="0.6"/><path d="M144.178,493.925A30.200000000000003,30.200000000000003 0 0 1 151.951,495.273L149.939,501.716A23.450000000000003,23.450000000000003 0 0 0 143.903,500.669Z" fill="#ea6a50" stroke="#ea6a50" stroke-width="0.6"/><path d="M146.273,513.457A11.15,11.15 0 0 1 148.916,514.681L145.304,520.383A4.4,4.4 0 0 0 144.261,519.900Z" fill="#e8283a" stroke="#e8283a" stroke-width="0.6"/><path d="M148.106,507.586A17.3,17.3 0 0 1 152.207,509.485L148.916,514.681A11.15,11.15 0 0 0 146.273,513.457Z" fill="#e8283a" stroke="#e8283a" stroke-width="0.6"/><path d="M149.939,501.716A23.450000000000003,23.450000000000003 0 0 1 155.498,504.290L152.207,509.485A17.3,17.3 0 0 0 148.106,507.586Z" fill="#ffffff" stroke="#ffffff" stroke-width="0.6"/><path d="M151.951,495.273A30.200000000000003,30.200000000000003 0 0 1 159.110,498.587L155.498,504.290A23.450000000000003,23.450000000000003 0 0 0 149.939,501.716Z" fill="#d9d4e9" stroke="#d9d4e9" stroke-width="0.6"/><path d="M148.916,514.681A11.15,11.15 0 0 1 151.152,516.547L146.187,521.119A4.4,4.4 0 0 0 145.304,520.383Z" fill="#3b5ba9" stroke="#3b5ba9" stroke-width="0.6"/><path d="M152.207,509.485A17.3,17.3 0 0 1 155.676,512.381L151.152,516.547A11.15,11.15 0 0 0 148.916,514.681Z" fill="#3b5ba9" stroke="#3b5ba9" stroke-width="0.6"/><path d="M155.498,504.290A23.450000000000003,23.450000000000003 0 0 1 160.200,508.215L155.676,512.381A17.3,17.3 0 0 0 152.207,509.485Z" fill="#ffffff" stroke="#ffffff" stroke-width="0.6"/><path d="M159.110,498.587A30.200000000000003,30.200000000000003 0 0 1 165.166,503.643L160.200,508.215A23.450000000000003,23.450000000000003 0 0 0 155.498,504.290Z" fill="#ffffff" stroke="#ffffff" stroke-width="0.6"/><path d="M151.152,516.547A11.15,11.15 0 0 1 152.828,518.929L146.848,522.059A4.4,4.4 0 0 0 146.187,521.119Z" fill="#3b5ba9" stroke="#3b5ba9" stroke-width="0.6"/><path d="M155.676,512.381A17.3,17.3 0 0 1 158.277,516.077L152.828,518.929A11.15,11.15 0 0 0 151.152,516.547Z" fill="#b8b1d6" stroke="#b8b1d6" stroke-width="0.6"/><path d="M160.200,508.215A23.450000000000003,23.450000000000003 0 0 1 163.726,513.225L158.277,516.077A17.3,17.3 0 0 0 155.676,512.381Z" fill="#b8b1d6" stroke="#b8b1d6" stroke-width="0.6"/><path d="M165.166,503.643A30.200000000000003,30.200000000000003 0 0 1 169.706,510.094L163.726,513.225A23.450000000000003,23.450000000000003 0 0 0 160.200,508.215Z" fill="#d9d4e9" stroke="#d9d4e9" stroke-width="0.6"/><path d="M152.828,518.929A11.15,11.15 0 0 1 153.864,521.816L147.257,523.199A4.4,4.4 0 0 0 146.848,522.059Z" fill="#3b5ba9" stroke="#3b5ba9" stroke-width="0.6"/><path d="M158.277,516.077A17.3,17.3 0 0 1 159.883,520.556L153.864,521.816A11.15,11.15 0 0 0 152.828,518.929Z" fill="#6461aa" stroke="#6461aa" stroke-width="0.6"/><path d="M163.726,513.225A23.450000000000003,23.450000000000003 0 0 1 165.903,519.297L159.883,520.556A17.3,17.3 0 0 0 158.277,516.077Z" fill="#3b5ba9" stroke="#3b5ba9" stroke-width="0.6"/><path d="M169.706,510.094A30.200000000000003,30.200000000000003 0 0 1 172.510,517.914L165.903,519.297A23.450000000000003,23.450000000000003 0 0 0 163.726,513.225Z" fill="#3b5ba9" stroke="#3b5ba9" stroke-width="0.6"/></g>
<g clip-path="url(#trk1)"><path d="M180.184,523.613A37.2375,37.2375 0 0 1 178.909,533.775L172.692,532.103A30.799999999999997,30.799999999999997 0 0 0 173.747,523.697Z" fill="#d9d4e9" stroke="#d9d4e9" stroke-width="0.6"/><path d="M186.021,523.536A43.075,43.075 0 0 1 184.546,535.292L178.909,533.775A37.2375,37.2375 0 0 0 180.184,523.613Z" fill="#d9d4e9" stroke="#d9d4e9" stroke-width="0.6"/><path d="M191.858,523.460A48.9125,48.9125 0 0 1 190.183,536.809L184.546,535.292A43.075,43.075 0 0 0 186.021,523.536Z" fill="#d9d4e9" stroke="#d9d4e9" stroke-width="0.6"/><path d="M198.295,523.375A55.35,55.35 0 0 1 196.399,538.482L190.183,536.809A48.9125,48.9125 0 0 0 191.858,523.460Z" fill="#ee9a80" stroke="#ee9a80" stroke-width="0.6"/><path d="M178.909,533.775A37.2375,37.2375 0 0 1 175.176,542.758L169.605,539.533A30.799999999999997,30.799999999999997 0 0 0 172.692,532.103Z" fill="#3b5ba9" stroke="#3b5ba9" stroke-width="0.6"/><path d="M184.546,535.292A43.075,43.075 0 0 1 180.228,545.683L175.176,542.758A37.2375,37.2375 0 0 0 178.909,533.775Z" fill="#e8283a" stroke="#e8283a" stroke-width="0.6"/><path d="M190.183,536.809A48.9125,48.9125 0 0 1 185.280,548.608L180.228,545.683A43.075,43.075 0 0 0 184.546,535.292Z" fill="#ee9a80" stroke="#ee9a80" stroke-width="0.6"/><path d="M196.399,538.482A55.35,55.35 0 0 1 190.851,551.834L185.280,548.608A48.9125,48.9125 0 0 0 190.183,536.809Z" fill="#e8283a" stroke="#e8283a" stroke-width="0.6"/><path d="M175.176,542.758A37.2375,37.2375 0 0 1 169.244,550.468L164.698,545.909A30.799999999999997,30.799999999999997 0 0 0 169.605,539.533Z" fill="#d9d4e9" stroke="#d9d4e9" stroke-width="0.6"/><path d="M180.228,545.683A43.075,43.075 0 0 1 173.366,554.601L169.244,550.468A37.2375,37.2375 0 0 0 175.176,542.758Z" fill="#ea6a50" stroke="#ea6a50" stroke-width="0.6"/><path d="M185.280,548.608A48.9125,48.9125 0 0 1 177.488,558.735L173.366,554.601A43.075,43.075 0 0 0 180.228,545.683Z" fill="#b8b1d6" stroke="#b8b1d6" stroke-width="0.6"/><path d="M190.851,551.834A55.35,55.35 0 0 1 182.034,563.293L177.488,558.735A48.9125,48.9125 0 0 0 185.280,548.608Z" fill="#6461aa" stroke="#6461aa" stroke-width="0.6"/><path d="M169.244,550.468A37.2375,37.2375 0 0 1 161.518,556.378L158.308,550.798A30.799999999999997,30.799999999999997 0 0 0 164.698,545.909Z" fill="#ea6a50" stroke="#ea6a50" stroke-width="0.6"/><path d="M173.366,554.601A43.075,43.075 0 0 1 164.429,561.438L161.518,556.378A37.2375,37.2375 0 0 0 169.244,550.468Z" fill="#f3bca9" stroke="#f3bca9" stroke-width="0.6"/><path d="M177.488,558.735A48.9125,48.9125 0 0 1 167.340,566.498L164.429,561.438A43.075,43.075 0 0 0 173.366,554.601Z" fill="#3b5ba9" stroke="#3b5ba9" stroke-width="0.6"/><path d="M182.034,563.293A55.35,55.35 0 0 1 170.550,572.078L167.340,566.498A48.9125,48.9125 0 0 0 177.488,558.735Z" fill="#e8283a" stroke="#e8283a" stroke-width="0.6"/><path d="M161.518,556.378A37.2375,37.2375 0 0 1 152.525,560.085L150.870,553.864A30.799999999999997,30.799999999999997 0 0 0 158.308,550.798Z" fill="#e8283a" stroke="#e8283a" stroke-width="0.6"/><path d="M164.429,561.438A43.075,43.075 0 0 1 154.026,565.727L152.525,560.085A37.2375,37.2375 0 0 0 161.518,556.378Z" fill="#9a94c6" stroke="#9a94c6" stroke-width="0.6"/><path d="M167.340,566.498A48.9125,48.9125 0 0 1 155.527,571.368L154.026,565.727A43.075,43.075 0 0 0 164.429,561.438Z" fill="#f3bca9" stroke="#f3bca9" stroke-width="0.6"/><path d="M170.550,572.078A55.35,55.35 0 0 1 157.182,577.589L155.527,571.368A48.9125,48.9125 0 0 0 167.340,566.498Z" fill="#f0aa94" stroke="#f0aa94" stroke-width="0.6"/><path d="M152.525,560.085A37.2375,37.2375 0 0 1 142.879,561.337L142.891,554.900A30.799999999999997,30.799999999999997 0 0 0 150.870,553.864Z" fill="#f3bca9" stroke="#f3bca9" stroke-width="0.6"/><path d="M154.026,565.727A43.075,43.075 0 0 1 142.867,567.175L142.879,561.337A37.2375,37.2375 0 0 0 152.525,560.085Z" fill="#e8283a" stroke="#e8283a" stroke-width="0.6"/><path d="M155.527,571.368A48.9125,48.9125 0 0 1 142.856,573.012L142.867,567.175A43.075,43.075 0 0 0 154.026,565.727Z" fill="#3b5ba9" stroke="#3b5ba9" stroke-width="0.6"/><path d="M157.182,577.589A55.35,55.35 0 0 1 142.844,579.450L142.856,573.012A48.9125,48.9125 0 0 0 155.527,571.368Z" fill="#ee9a80" stroke="#ee9a80" stroke-width="0.6"/><path d="M142.879,561.337A37.2375,37.2375 0 0 1 133.237,560.048L134.916,553.834A30.799999999999997,30.799999999999997 0 0 0 142.891,554.900Z" fill="#f9ddd4" stroke="#f9ddd4" stroke-width="0.6"/><path d="M142.867,567.175A43.075,43.075 0 0 1 131.714,565.684L133.237,560.048A37.2375,37.2375 0 0 0 142.879,561.337Z" fill="#f3bca9" stroke="#f3bca9" stroke-width="0.6"/><path d="M142.856,573.012A48.9125,48.9125 0 0 1 130.192,571.319L131.714,565.684A43.075,43.075 0 0 0 142.867,567.175Z" fill="#ee9a80" stroke="#ee9a80" stroke-width="0.6"/><path d="M142.844,579.450A55.35,55.35 0 0 1 128.512,577.534L130.192,571.319A48.9125,48.9125 0 0 0 142.856,573.012Z" fill="#f3bca9" stroke="#f3bca9" stroke-width="0.6"/><path d="M133.237,560.048A37.2375,37.2375 0 0 1 124.258,556.306L127.490,550.739A30.799999999999997,30.799999999999997 0 0 0 134.916,553.834Z" fill="#f9ddd4" stroke="#f9ddd4" stroke-width="0.6"/><path d="M131.714,565.684A43.075,43.075 0 0 1 121.328,561.355L124.258,556.306A37.2375,37.2375 0 0 0 133.237,560.048Z" fill="#d9d4e9" stroke="#d9d4e9" stroke-width="0.6"/><path d="M130.192,571.319A48.9125,48.9125 0 0 1 118.398,566.404L121.328,561.355A43.075,43.075 0 0 0 131.714,565.684Z" fill="#d9d4e9" stroke="#d9d4e9" stroke-width="0.6"/><path d="M128.512,577.534A55.35,55.35 0 0 1 115.166,571.972L118.398,566.404A48.9125,48.9125 0 0 0 130.192,571.319Z" fill="#9a94c6" stroke="#9a94c6" stroke-width="0.6"/><path d="M124.258,556.306A37.2375,37.2375 0 0 1 116.555,550.366L121.118,545.826A30.799999999999997,30.799999999999997 0 0 0 127.490,550.739Z" fill="#f6f2f4" stroke="#f6f2f4" stroke-width="0.6"/><path d="M121.328,561.355A43.075,43.075 0 0 1 112.417,554.484L116.555,550.366A37.2375,37.2375 0 0 0 124.258,556.306Z" fill="#f6f2f4" stroke="#f6f2f4" stroke-width="0.6"/><path d="M118.398,566.404A48.9125,48.9125 0 0 1 108.279,558.602L112.417,554.484A43.075,43.075 0 0 0 121.328,561.355Z" fill="#f0eef4" stroke="#f0eef4" stroke-width="0.6"/><path d="M115.166,571.972A55.35,55.35 0 0 1 103.716,563.143L108.279,558.602A48.9125,48.9125 0 0 0 118.398,566.404Z" fill="#ea6a50" stroke="#ea6a50" stroke-width="0.6"/><path d="M116.555,550.366A37.2375,37.2375 0 0 1 110.653,542.634L116.236,539.430A30.799999999999997,30.799999999999997 0 0 0 121.118,545.826Z" fill="#ee9a80" stroke="#ee9a80" stroke-width="0.6"/><path d="M112.417,554.484A43.075,43.075 0 0 1 105.590,545.540L110.653,542.634A37.2375,37.2375 0 0 0 116.555,550.366Z" fill="#f6f2f4" stroke="#f6f2f4" stroke-width="0.6"/><path d="M108.279,558.602A48.9125,48.9125 0 0 1 100.527,548.445L105.590,545.540A43.075,43.075 0 0 0 112.417,554.484Z" fill="#ea6a50" stroke="#ea6a50" stroke-width="0.6"/><path d="M103.716,563.143A55.35,55.35 0 0 1 94.943,551.649L100.527,548.445A48.9125,48.9125 0 0 0 108.279,558.602Z" fill="#f3bca9" stroke="#f3bca9" stroke-width="0.6"/><path d="M110.653,542.634A37.2375,37.2375 0 0 1 106.955,533.637L113.177,531.989A30.799999999999997,30.799999999999997 0 0 0 116.236,539.430Z" fill="#3b5ba9" stroke="#3b5ba9" stroke-width="0.6"/><path d="M105.590,545.540A43.075,43.075 0 0 1 101.312,535.132L106.955,533.637A37.2375,37.2375 0 0 0 110.653,542.634Z" fill="#e8283a" stroke="#e8283a" stroke-width="0.6"/><path d="M100.527,548.445A48.9125,48.9125 0 0 1 95.669,536.628L101.312,535.132A43.075,43.075 0 0 0 105.590,545.540Z" fill="#3b5ba9" stroke="#3b5ba9" stroke-width="0.6"/><path d="M94.943,551.649A55.35,55.35 0 0 1 89.446,538.276L95.669,536.628A48.9125,48.9125 0 0 0 100.527,548.445Z" fill="#e8283a" stroke="#e8283a" stroke-width="0.6"/><path d="M106.955,533.637A37.2375,37.2375 0 0 1 105.713,523.990L112.150,524.009A30.799999999999997,30.799999999999997 0 0 0 113.177,531.989Z" fill="#6461aa" stroke="#6461aa" stroke-width="0.6"/><path d="M101.312,535.132A43.075,43.075 0 0 1 99.875,523.972L105.713,523.990A37.2375,37.2375 0 0 0 106.955,533.637Z" fill="#f9ddd4" stroke="#f9ddd4" stroke-width="0.6"/><path d="M95.669,536.628A48.9125,48.9125 0 0 1 94.038,523.955L99.875,523.972A43.075,43.075 0 0 0 101.312,535.132Z" fill="#ea6a50" stroke="#ea6a50" stroke-width="0.6"/><path d="M89.446,538.276A55.35,55.35 0 0 1 87.600,523.936L94.038,523.955A48.9125,48.9125 0 0 0 95.669,536.628Z" fill="#ffffff" stroke="#ffffff" stroke-width="0.6"/><path d="M105.713,523.990A37.2375,37.2375 0 0 1 107.151,513.848L113.340,515.621A30.799999999999997,30.799999999999997 0 0 0 112.150,524.009Z" fill="#e8283a" stroke="#e8283a" stroke-width="0.6"/><path d="M99.875,523.972A43.075,43.075 0 0 1 101.540,512.241L107.151,513.848A37.2375,37.2375 0 0 0 105.713,523.990Z" fill="#ea6a50" stroke="#ea6a50" stroke-width="0.6"/><path d="M94.038,523.955A48.9125,48.9125 0 0 1 95.928,510.634L101.540,512.241A43.075,43.075 0 0 0 99.875,523.972Z" fill="#ee9a80" stroke="#ee9a80" stroke-width="0.6"/><path d="M87.600,523.936A55.35,55.35 0 0 1 89.739,508.862L95.928,510.634A48.9125,48.9125 0 0 0 94.038,523.955Z" fill="#f3bca9" stroke="#f3bca9" stroke-width="0.6"/><path d="M107.242,513.536A37.2375,37.2375 0 0 1 111.471,504.208L116.913,507.646A30.799999999999997,30.799999999999997 0 0 0 113.415,515.363Z" fill="#e8283a" stroke="#e8283a" stroke-width="0.6"/><path d="M101.645,511.880A43.075,43.075 0 0 1 106.536,501.089L111.471,504.208A37.2375,37.2375 0 0 0 107.242,513.536Z" fill="#3b5ba9" stroke="#3b5ba9" stroke-width="0.6"/><path d="M96.047,510.224A48.9125,48.9125 0 0 1 101.602,497.971L106.536,501.089A43.075,43.075 0 0 0 101.645,511.880Z" fill="#ee9a80" stroke="#ee9a80" stroke-width="0.6"/><path d="M89.874,508.398A55.35,55.35 0 0 1 96.160,494.532L101.602,497.971A48.9125,48.9125 0 0 0 96.047,510.224Z" fill="#e8283a" stroke="#e8283a" stroke-width="0.6"/><path d="M111.471,504.208A37.2375,37.2375 0 0 1 117.697,496.734L122.063,501.465A30.799999999999997,30.799999999999997 0 0 0 116.913,507.646Z" fill="#f3bca9" stroke="#f3bca9" stroke-width="0.6"/><path d="M106.536,501.089A43.075,43.075 0 0 1 113.738,492.444L117.697,496.734A37.2375,37.2375 0 0 0 111.471,504.208Z" fill="#ee9a80" stroke="#ee9a80" stroke-width="0.6"/><path d="M101.602,497.971A48.9125,48.9125 0 0 1 109.780,488.153L113.738,492.444A43.075,43.075 0 0 0 106.536,501.089Z" fill="#3b5ba9" stroke="#3b5ba9" stroke-width="0.6"/><path d="M96.160,494.532A55.35,55.35 0 0 1 105.414,483.422L109.780,488.153A48.9125,48.9125 0 0 0 101.602,497.971Z" fill="#e8283a" stroke="#e8283a" stroke-width="0.6"/><path d="M117.697,496.734A37.2375,37.2375 0 0 1 125.646,491.127L128.638,496.827A30.799999999999997,30.799999999999997 0 0 0 122.063,501.465Z" fill="#ee9a80" stroke="#ee9a80" stroke-width="0.6"/><path d="M113.738,492.444A43.075,43.075 0 0 1 122.934,485.958L125.646,491.127A37.2375,37.2375 0 0 0 117.697,496.734Z" fill="#3b5ba9" stroke="#3b5ba9" stroke-width="0.6"/><path d="M109.780,488.153A48.9125,48.9125 0 0 1 120.221,480.789L122.934,485.958A43.075,43.075 0 0 0 113.738,492.444Z" fill="#e8283a" stroke="#e8283a" stroke-width="0.6"/><path d="M105.414,483.422A55.35,55.35 0 0 1 117.230,475.089L120.221,480.789A48.9125,48.9125 0 0 0 109.780,488.153Z" fill="#f3bca9" stroke="#f3bca9" stroke-width="0.6"/><path d="M125.646,491.127A37.2375,37.2375 0 0 1 134.776,487.771L136.189,494.051A30.799999999999997,30.799999999999997 0 0 0 128.638,496.827Z" fill="#e8283a" stroke="#e8283a" stroke-width="0.6"/><path d="M122.934,485.958A43.075,43.075 0 0 1 133.495,482.076L134.776,487.771A37.2375,37.2375 0 0 0 125.646,491.127Z" fill="#6461aa" stroke="#6461aa" stroke-width="0.6"/><path d="M120.221,480.789A48.9125,48.9125 0 0 1 132.213,476.380L133.495,482.076A43.075,43.075 0 0 0 122.934,485.958Z" fill="#e8283a" stroke="#e8283a" stroke-width="0.6"/><path d="M117.230,475.089A55.35,55.35 0 0 1 130.800,470.100L132.213,476.380A48.9125,48.9125 0 0 0 120.221,480.789Z" fill="#e8283a" stroke="#e8283a" stroke-width="0.6"/><path d="M134.776,487.771A37.2375,37.2375 0 0 1 144.464,486.893L144.202,493.325A30.799999999999997,30.799999999999997 0 0 0 136.189,494.051Z" fill="#ee9a80" stroke="#ee9a80" stroke-width="0.6"/><path d="M133.495,482.076A43.075,43.075 0 0 1 144.701,481.061L144.464,486.893A37.2375,37.2375 0 0 0 134.776,487.771Z" fill="#f9ddd4" stroke="#f9ddd4" stroke-width="0.6"/><path d="M132.213,476.380A48.9125,48.9125 0 0 1 144.939,475.228L144.701,481.061A43.075,43.075 0 0 0 133.495,482.076Z" fill="#3b5ba9" stroke="#3b5ba9" stroke-width="0.6"/><path d="M130.800,470.100A55.35,55.35 0 0 1 145.200,468.796L144.939,475.228A48.9125,48.9125 0 0 0 132.213,476.380Z" fill="#6461aa" stroke="#6461aa" stroke-width="0.6"/><path d="M144.464,486.893A37.2375,37.2375 0 0 1 154.048,488.555L152.130,494.700A30.799999999999997,30.799999999999997 0 0 0 144.202,493.325Z" fill="#ee9a80" stroke="#ee9a80" stroke-width="0.6"/><path d="M144.701,481.061A43.075,43.075 0 0 1 155.788,482.983L154.048,488.555A37.2375,37.2375 0 0 0 144.464,486.893Z" fill="#f3bca9" stroke="#f3bca9" stroke-width="0.6"/><path d="M144.939,475.228A48.9125,48.9125 0 0 1 157.528,477.410L155.788,482.983A43.075,43.075 0 0 0 144.701,481.061Z" fill="#b8b1d6" stroke="#b8b1d6" stroke-width="0.6"/><path d="M145.200,468.796A55.35,55.35 0 0 1 159.447,471.265L157.528,477.410A48.9125,48.9125 0 0 0 144.939,475.228Z" fill="#f3bca9" stroke="#f3bca9" stroke-width="0.6"/><path d="M154.048,488.555A37.2375,37.2375 0 0 1 162.875,492.642L159.431,498.080A30.799999999999997,30.799999999999997 0 0 0 152.130,494.700Z" fill="#e8283a" stroke="#e8283a" stroke-width="0.6"/><path d="M155.788,482.983A43.075,43.075 0 0 1 165.999,487.710L162.875,492.642A37.2375,37.2375 0 0 0 154.048,488.555Z" fill="#e8283a" stroke="#e8283a" stroke-width="0.6"/><path d="M157.528,477.410A48.9125,48.9125 0 0 1 169.123,482.779L165.999,487.710A43.075,43.075 0 0 0 155.788,482.983Z" fill="#ffffff" stroke="#ffffff" stroke-width="0.6"/><path d="M159.447,471.265A55.35,55.35 0 0 1 172.567,477.341L169.123,482.779A48.9125,48.9125 0 0 0 157.528,477.410Z" fill="#d9d4e9" stroke="#d9d4e9" stroke-width="0.6"/><path d="M162.875,492.642A37.2375,37.2375 0 0 1 170.343,498.876L165.607,503.236A30.799999999999997,30.799999999999997 0 0 0 159.431,498.080Z" fill="#3b5ba9" stroke="#3b5ba9" stroke-width="0.6"/><path d="M165.999,487.710A43.075,43.075 0 0 1 174.637,494.921L170.343,498.876A37.2375,37.2375 0 0 0 162.875,492.642Z" fill="#3b5ba9" stroke="#3b5ba9" stroke-width="0.6"/><path d="M169.123,482.779A48.9125,48.9125 0 0 1 178.931,490.967L174.637,494.921A43.075,43.075 0 0 0 165.999,487.710Z" fill="#ffffff" stroke="#ffffff" stroke-width="0.6"/><path d="M172.567,477.341A55.35,55.35 0 0 1 183.667,486.606L178.931,490.967A48.9125,48.9125 0 0 0 169.123,482.779Z" fill="#ffffff" stroke="#ffffff" stroke-width="0.6"/><path d="M170.343,498.876A37.2375,37.2375 0 0 1 175.941,506.831L170.238,509.816A30.799999999999997,30.799999999999997 0 0 0 165.607,503.236Z" fill="#ea6a50" stroke="#ea6a50" stroke-width="0.6"/><path d="M174.637,494.921A43.075,43.075 0 0 1 181.113,504.124L175.941,506.831A37.2375,37.2375 0 0 0 170.343,498.876Z" fill="#9a94c6" stroke="#9a94c6" stroke-width="0.6"/><path d="M178.931,490.967A48.9125,48.9125 0 0 1 186.285,501.416L181.113,504.124A43.075,43.075 0 0 0 174.637,494.921Z" fill="#9a94c6" stroke="#9a94c6" stroke-width="0.6"/><path d="M183.667,486.606A55.35,55.35 0 0 1 191.988,498.431L186.285,501.416A48.9125,48.9125 0 0 0 178.931,490.967Z" fill="#ee9a80" stroke="#ee9a80" stroke-width="0.6"/><path d="M175.941,506.831A37.2375,37.2375 0 0 1 179.398,516.472L173.097,517.791A30.799999999999997,30.799999999999997 0 0 0 170.238,509.816Z" fill="#6461aa" stroke="#6461aa" stroke-width="0.6"/><path d="M181.113,504.124A43.075,43.075 0 0 1 185.112,515.277L179.398,516.472A37.2375,37.2375 0 0 0 175.941,506.831Z" fill="#3b5ba9" stroke="#3b5ba9" stroke-width="0.6"/><path d="M186.285,501.416A48.9125,48.9125 0 0 1 190.825,514.081L185.112,515.277A43.075,43.075 0 0 0 181.113,504.124Z" fill="#3b5ba9" stroke="#3b5ba9" stroke-width="0.6"/><path d="M191.988,498.431A55.35,55.35 0 0 1 197.126,512.762L190.825,514.081A48.9125,48.9125 0 0 0 186.285,501.416Z" fill="#ffffff" stroke="#ffffff" stroke-width="0.6"/></g>
<g clip-path="url(#trk2)"><path d="M205.407,523.282A62.462500000000006,62.462500000000006 0 0 1 203.267,540.330L196.882,538.612A55.85,55.85 0 0 0 198.795,523.369Z" fill="#f9ddd4" stroke="#f9ddd4" stroke-width="0.6"/><path d="M211.419,523.204A68.475,68.475 0 0 1 209.073,541.892L203.267,540.330A62.462500000000006,62.462500000000006 0 0 0 205.407,523.282Z" fill="#e8283a" stroke="#e8283a" stroke-width="0.6"/><path d="M217.431,523.125A74.4875,74.4875 0 0 1 214.879,543.454L209.073,541.892A68.475,68.475 0 0 0 211.419,523.204Z" fill="#9a94c6" stroke="#9a94c6" stroke-width="0.6"/><path d="M224.043,523.038A81.1,81.1 0 0 1 221.265,545.172L214.879,543.454A74.4875,74.4875 0 0 0 217.431,523.125Z" fill="#6461aa" stroke="#6461aa" stroke-width="0.6"/><path d="M203.267,540.330A62.462500000000006,62.462500000000006 0 0 1 197.006,555.397L191.283,552.084A55.85,55.85 0 0 0 196.882,538.612Z" fill="#f3bca9" stroke="#f3bca9" stroke-width="0.6"/><path d="M209.073,541.892A68.475,68.475 0 0 1 202.209,558.410L197.006,555.397A62.462500000000006,62.462500000000006 0 0 0 203.267,540.330Z" fill="#e8283a" stroke="#e8283a" stroke-width="0.6"/><path d="M214.879,543.454A74.4875,74.4875 0 0 1 207.413,561.423L202.209,558.410A68.475,68.475 0 0 0 209.073,541.892Z" fill="#3b5ba9" stroke="#3b5ba9" stroke-width="0.6"/><path d="M221.265,545.172A81.1,81.1 0 0 1 213.135,564.736L207.413,561.423A74.4875,74.4875 0 0 0 214.879,543.454Z" fill="#3b5ba9" stroke="#3b5ba9" stroke-width="0.6"/><path d="M197.006,555.397A62.462500000000006,62.462500000000006 0 0 1 187.056,568.329L182.387,563.647A55.85,55.85 0 0 0 191.283,552.084Z" fill="#6461aa" stroke="#6461aa" stroke-width="0.6"/><path d="M202.209,558.410A68.475,68.475 0 0 1 191.301,572.587L187.056,568.329A62.462500000000006,62.462500000000006 0 0 0 197.006,555.397Z" fill="#3b5ba9" stroke="#3b5ba9" stroke-width="0.6"/><path d="M207.413,561.423A74.4875,74.4875 0 0 1 195.547,576.844L191.301,572.587A68.475,68.475 0 0 0 202.209,558.410Z" fill="#f9ddd4" stroke="#f9ddd4" stroke-width="0.6"/><path d="M213.135,564.736A81.1,81.1 0 0 1 200.216,581.526L195.547,576.844A74.4875,74.4875 0 0 0 207.413,561.423Z" fill="#e8283a" stroke="#e8283a" stroke-width="0.6"/><path d="M187.056,568.329A62.462500000000006,62.462500000000006 0 0 1 174.096,578.243L170.799,572.511A55.85,55.85 0 0 0 182.387,563.647Z" fill="#f3bca9" stroke="#f3bca9" stroke-width="0.6"/><path d="M191.301,572.587A68.475,68.475 0 0 1 177.094,583.455L174.096,578.243A62.462500000000006,62.462500000000006 0 0 0 187.056,568.329Z" fill="#ea6a50" stroke="#ea6a50" stroke-width="0.6"/><path d="M195.547,576.844A74.4875,74.4875 0 0 1 180.092,588.666L177.094,583.455A68.475,68.475 0 0 0 191.301,572.587Z" fill="#3b5ba9" stroke="#3b5ba9" stroke-width="0.6"/><path d="M200.216,581.526A81.1,81.1 0 0 1 183.390,594.398L180.092,588.666A74.4875,74.4875 0 0 0 195.547,576.844Z" fill="#3b5ba9" stroke="#3b5ba9" stroke-width="0.6"/><path d="M174.096,578.243A62.462500000000006,62.462500000000006 0 0 1 159.011,584.462L157.311,578.072A55.85,55.85 0 0 0 170.799,572.511Z" fill="#3b5ba9" stroke="#3b5ba9" stroke-width="0.6"/><path d="M177.094,583.455A68.475,68.475 0 0 1 160.557,590.273L159.011,584.462A62.462500000000006,62.462500000000006 0 0 0 174.096,578.243Z" fill="#ea6a50" stroke="#ea6a50" stroke-width="0.6"/><path d="M180.092,588.666A74.4875,74.4875 0 0 1 162.103,596.083L160.557,590.273A68.475,68.475 0 0 0 177.094,583.455Z" fill="#b8b1d6" stroke="#b8b1d6" stroke-width="0.6"/><path d="M183.390,594.398A81.1,81.1 0 0 1 163.803,602.473L162.103,596.083A74.4875,74.4875 0 0 0 180.092,588.666Z" fill="#f6f2f4" stroke="#f6f2f4" stroke-width="0.6"/><path d="M159.011,584.462A62.462500000000006,62.462500000000006 0 0 1 142.830,586.562L142.843,579.950A55.85,55.85 0 0 0 157.311,578.072Z" fill="#f9ddd4" stroke="#f9ddd4" stroke-width="0.6"/><path d="M160.557,590.273A68.475,68.475 0 0 1 142.819,592.575L142.830,586.562A62.462500000000006,62.462500000000006 0 0 0 159.011,584.462Z" fill="#b8b1d6" stroke="#b8b1d6" stroke-width="0.6"/><path d="M162.103,596.083A74.4875,74.4875 0 0 1 142.807,598.587L142.819,592.575A68.475,68.475 0 0 0 160.557,590.273Z" fill="#b8b1d6" stroke="#b8b1d6" stroke-width="0.6"/><path d="M163.803,602.473A81.1,81.1 0 0 1 142.794,605.200L142.807,598.587A74.4875,74.4875 0 0 0 162.103,596.083Z" fill="#f9ddd4" stroke="#f9ddd4" stroke-width="0.6"/><path d="M142.830,586.562A62.462500000000006,62.462500000000006 0 0 1 126.657,584.400L128.382,578.017A55.85,55.85 0 0 0 142.843,579.950Z" fill="#f6f2f4" stroke="#f6f2f4" stroke-width="0.6"/><path d="M142.819,592.575A68.475,68.475 0 0 1 125.089,590.205L126.657,584.400A62.462500000000006,62.462500000000006 0 0 0 142.830,586.562Z" fill="#ee9a80" stroke="#ee9a80" stroke-width="0.6"/><path d="M142.807,598.587A74.4875,74.4875 0 0 1 123.521,596.009L125.089,590.205A68.475,68.475 0 0 0 142.819,592.575Z" fill="#6461aa" stroke="#6461aa" stroke-width="0.6"/><path d="M142.794,605.200A81.1,81.1 0 0 1 121.796,602.392L123.521,596.009A74.4875,74.4875 0 0 0 142.807,598.587Z" fill="#b8b1d6" stroke="#b8b1d6" stroke-width="0.6"/><path d="M126.657,584.400A62.462500000000006,62.462500000000006 0 0 1 111.596,578.123L114.915,572.404A55.85,55.85 0 0 0 128.382,578.017Z" fill="#f6f2f4" stroke="#f6f2f4" stroke-width="0.6"/><path d="M125.089,590.205A68.475,68.475 0 0 1 108.578,583.323L111.596,578.123A62.462500000000006,62.462500000000006 0 0 0 126.657,584.400Z" fill="#f3bca9" stroke="#f3bca9" stroke-width="0.6"/><path d="M123.521,596.009A74.4875,74.4875 0 0 1 105.560,588.523L108.578,583.323A68.475,68.475 0 0 0 125.089,590.205Z" fill="#3b5ba9" stroke="#3b5ba9" stroke-width="0.6"/><path d="M121.796,602.392A81.1,81.1 0 0 1 102.241,594.242L105.560,588.523A74.4875,74.4875 0 0 0 123.521,596.009Z" fill="#f6f2f4" stroke="#f6f2f4" stroke-width="0.6"/><path d="M111.596,578.123A62.462500000000006,62.462500000000006 0 0 1 98.675,568.160L103.362,563.495A55.85,55.85 0 0 0 114.915,572.404Z" fill="#9a94c6" stroke="#9a94c6" stroke-width="0.6"/><path d="M108.578,583.323A68.475,68.475 0 0 1 94.413,572.401L98.675,568.160A62.462500000000006,62.462500000000006 0 0 0 111.596,578.123Z" fill="#f3bca9" stroke="#f3bca9" stroke-width="0.6"/><path d="M105.560,588.523A74.4875,74.4875 0 0 1 90.151,576.642L94.413,572.401A68.475,68.475 0 0 0 108.578,583.323Z" fill="#6461aa" stroke="#6461aa" stroke-width="0.6"/><path d="M102.241,594.242A81.1,81.1 0 0 1 85.464,581.306L90.151,576.642A74.4875,74.4875 0 0 0 105.560,588.523Z" fill="#6461aa" stroke="#6461aa" stroke-width="0.6"/><path d="M98.675,568.160A62.462500000000006,62.462500000000006 0 0 1 88.774,555.190L94.510,551.898A55.85,55.85 0 0 0 103.362,563.495Z" fill="#3b5ba9" stroke="#3b5ba9" stroke-width="0.6"/><path d="M94.413,572.401A68.475,68.475 0 0 1 83.559,558.182L88.774,555.190A62.462500000000006,62.462500000000006 0 0 0 98.675,568.160Z" fill="#9a94c6" stroke="#9a94c6" stroke-width="0.6"/><path d="M90.151,576.642A74.4875,74.4875 0 0 1 78.345,561.175L83.559,558.182A68.475,68.475 0 0 0 94.413,572.401Z" fill="#d9d4e9" stroke="#d9d4e9" stroke-width="0.6"/><path d="M85.464,581.306A81.1,81.1 0 0 1 72.609,564.466L78.345,561.175A74.4875,74.4875 0 0 0 90.151,576.642Z" fill="#b8b1d6" stroke="#b8b1d6" stroke-width="0.6"/><path d="M88.774,555.190A62.462500000000006,62.462500000000006 0 0 1 82.571,540.098L88.963,538.404A55.85,55.85 0 0 0 94.510,551.898Z" fill="#3b5ba9" stroke="#3b5ba9" stroke-width="0.6"/><path d="M83.559,558.182A68.475,68.475 0 0 1 76.759,541.638L82.571,540.098A62.462500000000006,62.462500000000006 0 0 0 88.774,555.190Z" fill="#3b5ba9" stroke="#3b5ba9" stroke-width="0.6"/><path d="M78.345,561.175A74.4875,74.4875 0 0 1 70.947,543.178L76.759,541.638A68.475,68.475 0 0 0 83.559,558.182Z" fill="#3b5ba9" stroke="#3b5ba9" stroke-width="0.6"/><path d="M72.609,564.466A81.1,81.1 0 0 1 64.555,544.871L70.947,543.178A74.4875,74.4875 0 0 0 78.345,561.175Z" fill="#f9ddd4" stroke="#f9ddd4" stroke-width="0.6"/><path d="M82.571,540.098A62.462500000000006,62.462500000000006 0 0 1 80.488,523.915L87.100,523.934A55.85,55.85 0 0 0 88.963,538.404Z" fill="#9a94c6" stroke="#9a94c6" stroke-width="0.6"/><path d="M76.759,541.638A68.475,68.475 0 0 1 74.475,523.897L80.488,523.915A62.462500000000006,62.462500000000006 0 0 0 82.571,540.098Z" fill="#b8b1d6" stroke="#b8b1d6" stroke-width="0.6"/><path d="M70.947,543.178A74.4875,74.4875 0 0 1 68.463,523.879L74.475,523.897A68.475,68.475 0 0 0 76.759,541.638Z" fill="#3b5ba9" stroke="#3b5ba9" stroke-width="0.6"/><path d="M64.555,544.871A81.1,81.1 0 0 1 61.850,523.859L68.463,523.879A74.4875,74.4875 0 0 0 70.947,543.178Z" fill="#9a94c6" stroke="#9a94c6" stroke-width="0.6"/><path d="M80.488,523.915A62.462500000000006,62.462500000000006 0 0 1 82.901,506.904L89.258,508.724A55.85,55.85 0 0 0 87.100,523.934Z" fill="#3b5ba9" stroke="#3b5ba9" stroke-width="0.6"/><path d="M74.475,523.897A68.475,68.475 0 0 1 77.121,505.249L82.901,506.904A62.462500000000006,62.462500000000006 0 0 0 80.488,523.915Z" fill="#3b5ba9" stroke="#3b5ba9" stroke-width="0.6"/><path d="M68.463,523.879A74.4875,74.4875 0 0 1 71.341,503.593L77.121,505.249A68.475,68.475 0 0 0 74.475,523.897Z" fill="#3b5ba9" stroke="#3b5ba9" stroke-width="0.6"/><path d="M61.850,523.859A81.1,81.1 0 0 1 64.984,501.773L71.341,503.593A74.4875,74.4875 0 0 0 68.463,523.879Z" fill="#9a94c6" stroke="#9a94c6" stroke-width="0.6"/><path d="M83.054,506.381A62.462500000000006,62.462500000000006 0 0 1 90.147,490.732L95.737,494.265A55.85,55.85 0 0 0 89.394,508.256Z" fill="#ea6a50" stroke="#ea6a50" stroke-width="0.6"/><path d="M77.288,504.675A68.475,68.475 0 0 1 85.064,487.520L90.147,490.732A62.462500000000006,62.462500000000006 0 0 0 83.054,506.381Z" fill="#9a94c6" stroke="#9a94c6" stroke-width="0.6"/><path d="M71.523,502.969A74.4875,74.4875 0 0 1 79.982,484.308L85.064,487.520A68.475,68.475 0 0 0 77.288,504.675Z" fill="#e8283a" stroke="#e8283a" stroke-width="0.6"/><path d="M65.182,501.094A81.1,81.1 0 0 1 74.392,480.776L79.982,484.308A74.4875,74.4875 0 0 0 71.523,502.969Z" fill="#3b5ba9" stroke="#3b5ba9" stroke-width="0.6"/><path d="M90.147,490.732A62.462500000000006,62.462500000000006 0 0 1 100.590,478.195L105.075,483.055A55.85,55.85 0 0 0 95.737,494.265Z" fill="#e8283a" stroke="#e8283a" stroke-width="0.6"/><path d="M85.064,487.520A68.475,68.475 0 0 1 96.513,473.777L100.590,478.195A62.462500000000006,62.462500000000006 0 0 0 90.147,490.732Z" fill="#ea6a50" stroke="#ea6a50" stroke-width="0.6"/><path d="M79.982,484.308A74.4875,74.4875 0 0 1 92.436,469.358L96.513,473.777A68.475,68.475 0 0 0 85.064,487.520Z" fill="#b8b1d6" stroke="#b8b1d6" stroke-width="0.6"/><path d="M74.392,480.776A81.1,81.1 0 0 1 87.951,464.498L92.436,469.358A74.4875,74.4875 0 0 0 79.982,484.308Z" fill="#3b5ba9" stroke="#3b5ba9" stroke-width="0.6"/><path d="M100.590,478.195A62.462500000000006,62.462500000000006 0 0 1 113.924,468.791L116.997,474.646A55.85,55.85 0 0 0 105.075,483.055Z" fill="#3b5ba9" stroke="#3b5ba9" stroke-width="0.6"/><path d="M96.513,473.777A68.475,68.475 0 0 1 111.131,463.467L113.924,468.791A62.462500000000006,62.462500000000006 0 0 0 100.590,478.195Z" fill="#e8283a" stroke="#e8283a" stroke-width="0.6"/><path d="M92.436,469.358A74.4875,74.4875 0 0 1 108.337,458.143L111.131,463.467A68.475,68.475 0 0 0 96.513,473.777Z" fill="#ee9a80" stroke="#ee9a80" stroke-width="0.6"/><path d="M87.951,464.498A81.1,81.1 0 0 1 105.264,452.288L108.337,458.143A74.4875,74.4875 0 0 0 92.436,469.358Z" fill="#e8283a" stroke="#e8283a" stroke-width="0.6"/><path d="M113.924,468.791A62.462500000000006,62.462500000000006 0 0 1 129.239,463.161L130.691,469.612A55.85,55.85 0 0 0 116.997,474.646Z" fill="#e8283a" stroke="#e8283a" stroke-width="0.6"/><path d="M111.131,463.467A68.475,68.475 0 0 1 127.919,457.295L129.239,463.161A62.462500000000006,62.462500000000006 0 0 0 113.924,468.791Z" fill="#e8283a" stroke="#e8283a" stroke-width="0.6"/><path d="M108.337,458.143A74.4875,74.4875 0 0 1 126.600,451.429L127.919,457.295A68.475,68.475 0 0 0 111.131,463.467Z" fill="#e8283a" stroke="#e8283a" stroke-width="0.6"/><path d="M105.264,452.288A81.1,81.1 0 0 1 125.148,444.978L126.600,451.429A74.4875,74.4875 0 0 0 108.337,458.143Z" fill="#3b5ba9" stroke="#3b5ba9" stroke-width="0.6"/><path d="M129.239,463.161A62.462500000000006,62.462500000000006 0 0 1 145.489,461.689L145.221,468.296A55.85,55.85 0 0 0 130.691,469.612Z" fill="#6461aa" stroke="#6461aa" stroke-width="0.6"/><path d="M127.919,457.295A68.475,68.475 0 0 1 145.734,455.682L145.489,461.689A62.462500000000006,62.462500000000006 0 0 0 129.239,463.161Z" fill="#e9473a" stroke="#e9473a" stroke-width="0.6"/><path d="M126.600,451.429A74.4875,74.4875 0 0 1 145.978,449.674L145.734,455.682A68.475,68.475 0 0 0 127.919,457.295Z" fill="#e8283a" stroke="#e8283a" stroke-width="0.6"/><path d="M125.148,444.978A81.1,81.1 0 0 1 146.247,443.067L145.978,449.674A74.4875,74.4875 0 0 0 126.600,451.429Z" fill="#ee9a80" stroke="#ee9a80" stroke-width="0.6"/><path d="M145.489,461.689A62.462500000000006,62.462500000000006 0 0 1 161.566,464.476L159.596,470.788A55.85,55.85 0 0 0 145.221,468.296Z" fill="#f8ece8" stroke="#f8ece8" stroke-width="0.6"/><path d="M145.734,455.682A68.475,68.475 0 0 1 163.358,458.737L161.566,464.476A62.462500000000006,62.462500000000006 0 0 0 145.489,461.689Z" fill="#f8f4f2" stroke="#f8f4f2" stroke-width="0.6"/><path d="M145.978,449.674A74.4875,74.4875 0 0 1 165.150,452.998L163.358,458.737A68.475,68.475 0 0 0 145.734,455.682Z" fill="#f0eef4" stroke="#f0eef4" stroke-width="0.6"/><path d="M146.247,443.067A81.1,81.1 0 0 1 167.121,446.686L165.150,452.998A74.4875,74.4875 0 0 0 145.978,449.674Z" fill="#f9ddd4" stroke="#f9ddd4" stroke-width="0.6"/><path d="M161.566,464.476A62.462500000000006,62.462500000000006 0 0 1 176.373,471.332L172.835,476.918A55.85,55.85 0 0 0 159.596,470.788Z" fill="#e8283a" stroke="#e8283a" stroke-width="0.6"/><path d="M163.358,458.737A68.475,68.475 0 0 1 179.590,466.253L176.373,471.332A62.462500000000006,62.462500000000006 0 0 0 161.566,464.476Z" fill="#ffffff" stroke="#ffffff" stroke-width="0.6"/><path d="M165.150,452.998A74.4875,74.4875 0 0 1 182.807,461.173L179.590,466.253A68.475,68.475 0 0 0 163.358,458.737Z" fill="#ffffff" stroke="#ffffff" stroke-width="0.6"/><path d="M167.121,446.686A81.1,81.1 0 0 1 186.346,455.587L182.807,461.173A74.4875,74.4875 0 0 0 165.150,452.998Z" fill="#f0aa94" stroke="#f0aa94" stroke-width="0.6"/><path d="M176.373,471.332A62.462500000000006,62.462500000000006 0 0 1 188.899,481.789L184.035,486.268A55.85,55.85 0 0 0 172.835,476.918Z" fill="#f3bca9" stroke="#f3bca9" stroke-width="0.6"/><path d="M179.590,466.253A68.475,68.475 0 0 1 193.322,477.716L188.899,481.789A62.462500000000006,62.462500000000006 0 0 0 176.373,471.332Z" fill="#ee9a80" stroke="#ee9a80" stroke-width="0.6"/><path d="M182.807,461.173A74.4875,74.4875 0 0 1 197.745,473.643L193.322,477.716A68.475,68.475 0 0 0 179.590,466.253Z" fill="#ee9a80" stroke="#ee9a80" stroke-width="0.6"/><path d="M186.346,455.587A81.1,81.1 0 0 1 202.609,469.164L197.745,473.643A74.4875,74.4875 0 0 0 182.807,461.173Z" fill="#ffffff" stroke="#ffffff" stroke-width="0.6"/><path d="M188.899,481.789A62.462500000000006,62.462500000000006 0 0 1 198.289,495.132L192.431,498.199A55.85,55.85 0 0 0 184.035,486.268Z" fill="#e8283a" stroke="#e8283a" stroke-width="0.6"/><path d="M193.322,477.716A68.475,68.475 0 0 1 203.616,492.344L198.289,495.132A62.462500000000006,62.462500000000006 0 0 0 188.899,481.789Z" fill="#ee9a80" stroke="#ee9a80" stroke-width="0.6"/><path d="M197.745,473.643A74.4875,74.4875 0 0 1 208.943,489.556L203.616,492.344A68.475,68.475 0 0 0 193.322,477.716Z" fill="#ffffff" stroke="#ffffff" stroke-width="0.6"/><path d="M202.609,469.164A81.1,81.1 0 0 1 214.801,486.489L208.943,489.556A74.4875,74.4875 0 0 0 197.745,473.643Z" fill="#e8283a" stroke="#e8283a" stroke-width="0.6"/><path d="M198.289,495.132A62.462500000000006,62.462500000000006 0 0 1 204.088,511.305L197.616,512.660A55.85,55.85 0 0 0 192.431,498.199Z" fill="#e8283a" stroke="#e8283a" stroke-width="0.6"/><path d="M203.616,492.344A68.475,68.475 0 0 1 209.973,510.074L204.088,511.305A62.462500000000006,62.462500000000006 0 0 0 198.289,495.132Z" fill="#e8283a" stroke="#e8283a" stroke-width="0.6"/><path d="M208.943,489.556A74.4875,74.4875 0 0 1 215.858,508.842L209.973,510.074A68.475,68.475 0 0 0 203.616,492.344Z" fill="#e8283a" stroke="#e8283a" stroke-width="0.6"/><path d="M214.801,486.489A81.1,81.1 0 0 1 222.330,507.488L215.858,508.842A74.4875,74.4875 0 0 0 208.943,489.556Z" fill="#ffffff" stroke="#ffffff" stroke-width="0.6"/></g>
<text transform="translate(225.23,535.01) rotate(7.55)" font-size="9.7" fill="#1a1a1a"><tspan dy="1.6">Myoc_S_160</tspan></text>
<text transform="translate(219.60,555.95) rotate(22.57)" font-size="9.7" fill="#1a1a1a"><tspan dy="3.4">Fsd2_S_536</tspan></text>
<text transform="translate(208.73,574.71) rotate(37.58)" font-size="9.7" fill="#1a1a1a"><tspan dy="3.4">Dcn_S_318</tspan></text>
<text transform="translate(193.38,590.02) rotate(52.59)" font-size="9.7" fill="#1a1a1a"><tspan dy="3.4">Atp5e_S_11,12</tspan></text>
<text transform="translate(174.59,600.83) rotate(67.59)" font-size="9.7" fill="#1a1a1a"><tspan dy="3.4">Stac3_S_152</tspan></text>
<text transform="translate(153.63,606.41) rotate(82.60)" font-size="9.7" fill="#1a1a1a"><tspan dy="3.4">Serpina1d_S_300</tspan></text>
<text transform="translate(131.95,606.37) rotate(-82.39)" font-size="9.7" fill="#1a1a1a" text-anchor="end"><tspan dy="3.4">Sypl2_T_4</tspan></text>
<text transform="translate(111.02,600.71) rotate(-67.38)" font-size="9.7" fill="#1a1a1a" text-anchor="end"><tspan dy="3.4">Hspb3_T_64</tspan></text>
<text transform="translate(92.27,589.83) rotate(-52.37)" font-size="9.7" fill="#1a1a1a" text-anchor="end"><tspan dy="3.4">Sypl2_S_2,2</tspan></text>
<text transform="translate(76.97,574.46) rotate(-37.35)" font-size="9.7" fill="#1a1a1a" text-anchor="end"><tspan dy="3.4">Stac3_S_153</tspan></text>
<text transform="translate(66.18,555.66) rotate(-22.34)" font-size="9.7" fill="#1a1a1a" text-anchor="end"><tspan dy="3.4">Atp5e_S_39</tspan></text>
<text transform="translate(60.63,534.70) rotate(-7.34)" font-size="9.7" fill="#1a1a1a" text-anchor="end"><tspan dy="3.4">Ndufs5_T_93</tspan></text>
<text transform="translate(60.69,513.02) rotate(7.68)" font-size="9.7" fill="#1a1a1a" text-anchor="end"><tspan dy="3.4">Hdhd2_T_49</tspan></text>
<text transform="translate(67.60,489.31) rotate(24.78)" font-size="9.7" fill="#1a1a1a" text-anchor="end"><tspan dy="3.4">Myoc_S_185</tspan></text>
<text transform="translate(77.33,469.44) rotate(39.79)" font-size="9.7" fill="#1a1a1a" text-anchor="end"><tspan dy="3.4">Smoc2_S_363</tspan></text>
<text transform="translate(89.52,448.35) rotate(54.81)" font-size="9.7" fill="#1a1a1a" text-anchor="end"><tspan dy="3.4">Tmem43_S_10</tspan></text>
<text transform="translate(113.55,444.13) rotate(69.81)" font-size="9.7" fill="#1a1a1a" text-anchor="end"><tspan dy="3.4">Atp5e_S_42</tspan></text>
<text transform="translate(135.25,439.05) rotate(84.82)" font-size="9.7" fill="#1a1a1a" text-anchor="end"><tspan dy="3.4">Pkia_S_64</tspan></text>
<text transform="translate(157.45,440.45) rotate(279.84)" font-size="9.7" fill="#1a1a1a"><tspan dy="3.4">Sypl2_S_2,11</tspan></text>
<text transform="translate(177.82,448.78) rotate(294.85)" font-size="9.7" fill="#1a1a1a"><tspan dy="3.4">Krt33b_11</tspan></text>
<text transform="translate(196.14,460.38) rotate(309.86)" font-size="9.7" fill="#1a1a1a"><tspan dy="3.4">Cox17_S_8</tspan></text>
<text transform="translate(210.83,476.33) rotate(324.87)" font-size="9.7" fill="#1a1a1a"><tspan dy="3.4">Fsd2_S_101</tspan></text>
<text transform="translate(220.88,495.54) rotate(339.88)" font-size="9.7" fill="#1a1a1a"><tspan dy="3.4">Manf_S_49</tspan></text>
<text x="168" y="523.8" font-size="5.7" font-weight="bold" fill="#222" text-anchor="middle">RM</text>
<text x="187" y="522.8" font-size="5.7" font-weight="bold" fill="#222" text-anchor="middle">CR</text>
<text x="212.6" y="519.7" font-size="5.7" font-weight="bold" fill="#222" text-anchor="middle">AGE</text>
<line x1="325.2" y1="387.7" x2="325.2" y2="453.3" stroke="#000" stroke-width="1.1"/>
<line x1="325.2" y1="453.3" x2="486" y2="453.3" stroke="#000" stroke-width="1.1"/>
<line x1="323.0" y1="450.70" x2="325.2" y2="450.70" stroke="#333" stroke-width="0.6"/>
<text x="322.2" y="452.86" font-size="6.0" fill="#4d4d4d" text-anchor="end">0</text>
<line x1="323.0" y1="435.65" x2="325.2" y2="435.65" stroke="#333" stroke-width="0.6"/>
<text x="322.2" y="437.81" font-size="6.0" fill="#4d4d4d" text-anchor="end">50</text>
<line x1="323.0" y1="420.60" x2="325.2" y2="420.60" stroke="#333" stroke-width="0.6"/>
<text x="322.2" y="422.76" font-size="6.0" fill="#4d4d4d" text-anchor="end">100</text>
<line x1="323.0" y1="405.55" x2="325.2" y2="405.55" stroke="#333" stroke-width="0.6"/>
<text x="322.2" y="407.71" font-size="6.0" fill="#4d4d4d" text-anchor="end">150</text>
<line x1="323.0" y1="390.50" x2="325.2" y2="390.50" stroke="#333" stroke-width="0.6"/>
<text x="322.2" y="392.66" font-size="6.0" fill="#4d4d4d" text-anchor="end">200</text>
<rect x="328.50" y="394.41" width="11.4" height="56.29" fill="#595959" stroke="#000" stroke-width="0.8"/>
<line x1="334.20" y1="393.21" x2="334.20" y2="395.61" stroke="#000" stroke-width="0.6"/>
<circle cx="334.20" cy="394.41" r="1.45" fill="#000"/>
<line x1="334.20" y1="453.3" x2="334.20" y2="455.5" stroke="#333" stroke-width="0.6"/>
<text transform="translate(337.20,459.80) rotate(-45)" font-size="6.0" fill="#4d4d4d" text-anchor="end">Fibroblasts</text>
<rect x="344.30" y="437.76" width="11.4" height="12.94" fill="#595959" stroke="#000" stroke-width="0.8"/>
<line x1="350.00" y1="436.56" x2="350.00" y2="438.96" stroke="#000" stroke-width="0.6"/>
<circle cx="350.00" cy="437.76" r="1.45" fill="#000"/>
<line x1="350.00" y1="453.3" x2="350.00" y2="455.5" stroke="#333" stroke-width="0.6"/>
<text transform="translate(353.00,459.80) rotate(-45)" font-size="6.0" fill="#4d4d4d" text-anchor="end">Skeletal myocytes</text>
<rect x="360.10" y="438.96" width="11.4" height="11.74" fill="#595959" stroke="#000" stroke-width="0.8"/>
<line x1="365.80" y1="437.76" x2="365.80" y2="440.16" stroke="#000" stroke-width="0.6"/>
<circle cx="365.80" cy="438.96" r="1.45" fill="#000"/>
<line x1="365.80" y1="453.3" x2="365.80" y2="455.5" stroke="#333" stroke-width="0.6"/>
<text transform="translate(368.80,459.80) rotate(-45)" font-size="6.0" fill="#4d4d4d" text-anchor="end">Peritubular cells</text>
<rect x="375.90" y="446.19" width="11.4" height="4.51" fill="#595959" stroke="#000" stroke-width="0.8"/>
<line x1="381.60" y1="444.99" x2="381.60" y2="447.38" stroke="#000" stroke-width="0.6"/>
<circle cx="381.60" cy="446.19" r="1.45" fill="#000"/>
<line x1="381.60" y1="453.3" x2="381.60" y2="455.5" stroke="#333" stroke-width="0.6"/>
<text transform="translate(384.60,459.80) rotate(-45)" font-size="6.0" fill="#4d4d4d" text-anchor="end">Smooth muscle cells</text>
<rect x="391.70" y="446.49" width="11.4" height="4.21" fill="#595959" stroke="#000" stroke-width="0.8"/>
<line x1="397.40" y1="445.29" x2="397.40" y2="447.69" stroke="#000" stroke-width="0.6"/>
<circle cx="397.40" cy="446.49" r="1.45" fill="#000"/>
<line x1="397.40" y1="453.3" x2="397.40" y2="455.5" stroke="#333" stroke-width="0.6"/>
<text transform="translate(400.40,459.80) rotate(-45)" font-size="6.0" fill="#4d4d4d" text-anchor="end">Gastric mucus−secreting cells</text>
<rect x="407.50" y="447.39" width="11.4" height="3.31" fill="#595959" stroke="#000" stroke-width="0.8"/>
<line x1="413.20" y1="446.19" x2="413.20" y2="448.59" stroke="#000" stroke-width="0.6"/>
<circle cx="413.20" cy="447.39" r="1.45" fill="#000"/>
<line x1="413.20" y1="453.3" x2="413.20" y2="455.5" stroke="#333" stroke-width="0.6"/>
<text transform="translate(416.20,459.80) rotate(-45)" font-size="6.0" fill="#4d4d4d" text-anchor="end">Leydig cells</text>
<rect x="423.30" y="449.19" width="11.4" height="1.50" fill="#595959" stroke="#000" stroke-width="0.8"/>
<line x1="429.00" y1="448.00" x2="429.00" y2="450.39" stroke="#000" stroke-width="0.6"/>
<circle cx="429.00" cy="449.19" r="1.45" fill="#000"/>
<line x1="429.00" y1="453.3" x2="429.00" y2="455.5" stroke="#333" stroke-width="0.6"/>
<text transform="translate(432.00,459.80) rotate(-45)" font-size="6.0" fill="#4d4d4d" text-anchor="end">Adipocytes</text>
<rect x="439.10" y="449.19" width="11.4" height="1.50" fill="#595959" stroke="#000" stroke-width="0.8"/>
<line x1="444.80" y1="448.00" x2="444.80" y2="450.39" stroke="#000" stroke-width="0.6"/>
<circle cx="444.80" cy="449.19" r="1.45" fill="#000"/>
<line x1="444.80" y1="453.3" x2="444.80" y2="455.5" stroke="#333" stroke-width="0.6"/>
<text transform="translate(447.80,459.80) rotate(-45)" font-size="6.0" fill="#4d4d4d" text-anchor="end">Melanocytes</text>
<rect x="454.90" y="449.19" width="11.4" height="1.50" fill="#595959" stroke="#000" stroke-width="0.8"/>
<line x1="460.60" y1="448.00" x2="460.60" y2="450.39" stroke="#000" stroke-width="0.6"/>
<circle cx="460.60" cy="449.19" r="1.45" fill="#000"/>
<line x1="460.60" y1="453.3" x2="460.60" y2="455.5" stroke="#333" stroke-width="0.6"/>
<text transform="translate(463.60,459.80) rotate(-45)" font-size="6.0" fill="#4d4d4d" text-anchor="end">Endothelial cells</text>
<rect x="470.70" y="449.50" width="11.4" height="1.20" fill="#595959" stroke="#000" stroke-width="0.8"/>
<line x1="476.40" y1="448.30" x2="476.40" y2="450.70" stroke="#000" stroke-width="0.6"/>
<circle cx="476.40" cy="449.50" r="1.45" fill="#000"/>
<line x1="476.40" y1="453.3" x2="476.40" y2="455.5" stroke="#333" stroke-width="0.6"/>
<text transform="translate(479.40,459.80) rotate(-45)" font-size="6.0" fill="#4d4d4d" text-anchor="end">Serous glandular cells</text>
<text x="412.6" y="396.5" font-size="7.9" fill="#1a1a1a" text-anchor="middle">Myocilin (Myoc)</text>
<text x="409.8" y="411.2" font-size="7.9" fill="#1a1a1a" text-anchor="middle">Specificity Score: 4.46</text>
<text transform="translate(307.4,420.9) rotate(-90)" font-size="7.3" fill="#1a1a1a" text-anchor="middle">Expression (nTPM)</text>
<line x1="509.4" y1="376.3" x2="509.4" y2="460.1" stroke="#000" stroke-width="1.1"/>
<line x1="509.4" y1="460.1" x2="671.2" y2="460.1" stroke="#000" stroke-width="1.1"/>
<line x1="507.2" y1="456.40" x2="509.4" y2="456.40" stroke="#333" stroke-width="0.6"/>
<text x="506.4" y="458.67" font-size="6.3" fill="#4d4d4d" text-anchor="end">0</text>
<line x1="507.2" y1="441.42" x2="509.4" y2="441.42" stroke="#333" stroke-width="0.6"/>
<text x="506.4" y="443.69" font-size="6.3" fill="#4d4d4d" text-anchor="end">100</text>
<line x1="507.2" y1="426.44" x2="509.4" y2="426.44" stroke="#333" stroke-width="0.6"/>
<text x="506.4" y="428.71" font-size="6.3" fill="#4d4d4d" text-anchor="end">200</text>
<line x1="507.2" y1="411.46" x2="509.4" y2="411.46" stroke="#333" stroke-width="0.6"/>
<text x="506.4" y="413.73" font-size="6.3" fill="#4d4d4d" text-anchor="end">300</text>
<line x1="507.2" y1="396.48" x2="509.4" y2="396.48" stroke="#333" stroke-width="0.6"/>
<text x="506.4" y="398.75" font-size="6.3" fill="#4d4d4d" text-anchor="end">400</text>
<line x1="507.2" y1="381.50" x2="509.4" y2="381.50" stroke="#333" stroke-width="0.6"/>
<text x="506.4" y="383.77" font-size="6.3" fill="#4d4d4d" text-anchor="end">500</text>
<rect x="513.00" y="380.75" width="11.9" height="75.65" fill="#595959" stroke="#000" stroke-width="0.8"/>
<line x1="518.95" y1="379.55" x2="518.95" y2="381.95" stroke="#000" stroke-width="0.6"/>
<circle cx="518.95" cy="380.75" r="1.45" fill="#000"/>
<line x1="518.95" y1="460.1" x2="518.95" y2="462.3" stroke="#333" stroke-width="0.6"/>
<text transform="translate(521.95,466.60) rotate(-45)" font-size="6.1" fill="#4d4d4d" text-anchor="end">Cardiomyocytes</text>
<rect x="528.95" y="412.96" width="11.9" height="43.44" fill="#595959" stroke="#000" stroke-width="0.8"/>
<line x1="534.90" y1="411.76" x2="534.90" y2="414.16" stroke="#000" stroke-width="0.6"/>
<circle cx="534.90" cy="412.96" r="1.45" fill="#000"/>
<line x1="534.90" y1="460.1" x2="534.90" y2="462.3" stroke="#333" stroke-width="0.6"/>
<text transform="translate(537.90,466.60) rotate(-45)" font-size="6.1" fill="#4d4d4d" text-anchor="end">Skeletal myocytes</text>
<rect x="544.90" y="454.45" width="11.9" height="1.95" fill="#595959" stroke="#000" stroke-width="0.8"/>
<line x1="550.85" y1="453.25" x2="550.85" y2="455.65" stroke="#000" stroke-width="0.6"/>
<circle cx="550.85" cy="454.45" r="1.45" fill="#000"/>
<line x1="550.85" y1="460.1" x2="550.85" y2="462.3" stroke="#333" stroke-width="0.6"/>
<text transform="translate(553.85,466.60) rotate(-45)" font-size="6.1" fill="#4d4d4d" text-anchor="end">Distal enterocytes</text>
<rect x="560.85" y="454.60" width="11.9" height="1.80" fill="#595959" stroke="#000" stroke-width="0.8"/>
<line x1="566.80" y1="453.40" x2="566.80" y2="455.80" stroke="#000" stroke-width="0.6"/>
<circle cx="566.80" cy="454.60" r="1.45" fill="#000"/>
<line x1="566.80" y1="460.1" x2="566.80" y2="462.3" stroke="#333" stroke-width="0.6"/>
<text transform="translate(569.80,466.60) rotate(-45)" font-size="6.1" fill="#4d4d4d" text-anchor="end">Fibroblasts</text>
<rect x="576.80" y="455.20" width="11.9" height="1.20" fill="#595959" stroke="#000" stroke-width="0.8"/>
<line x1="582.75" y1="454.00" x2="582.75" y2="456.40" stroke="#000" stroke-width="0.6"/>
<circle cx="582.75" cy="455.20" r="1.45" fill="#000"/>
<line x1="582.75" y1="460.1" x2="582.75" y2="462.3" stroke="#333" stroke-width="0.6"/>
<text transform="translate(585.75,466.60) rotate(-45)" font-size="6.1" fill="#4d4d4d" text-anchor="end">Sertoli cells</text>
<rect x="592.75" y="455.20" width="11.9" height="1.20" fill="#595959" stroke="#000" stroke-width="0.8"/>
<line x1="598.70" y1="454.00" x2="598.70" y2="456.40" stroke="#000" stroke-width="0.6"/>
<circle cx="598.70" cy="455.20" r="1.45" fill="#000"/>
<line x1="598.70" y1="460.1" x2="598.70" y2="462.3" stroke="#333" stroke-width="0.6"/>
<text transform="translate(601.70,466.60) rotate(-45)" font-size="6.1" fill="#4d4d4d" text-anchor="end">granulocytes</text>
<rect x="608.70" y="455.35" width="11.9" height="1.05" fill="#595959" stroke="#000" stroke-width="0.8"/>
<line x1="614.65" y1="454.15" x2="614.65" y2="456.55" stroke="#000" stroke-width="0.6"/>
<circle cx="614.65" cy="455.35" r="1.45" fill="#000"/>
<line x1="614.65" y1="460.1" x2="614.65" y2="462.3" stroke="#333" stroke-width="0.6"/>
<text transform="translate(617.65,466.60) rotate(-45)" font-size="6.1" fill="#4d4d4d" text-anchor="end">Horizontal cells</text>
<rect x="624.65" y="455.35" width="11.9" height="1.05" fill="#595959" stroke="#000" stroke-width="0.8"/>
<line x1="630.60" y1="454.15" x2="630.60" y2="456.55" stroke="#000" stroke-width="0.6"/>
<circle cx="630.60" cy="455.35" r="1.45" fill="#000"/>
<line x1="630.60" y1="460.1" x2="630.60" y2="462.3" stroke="#333" stroke-width="0.6"/>
<text transform="translate(633.60,466.60) rotate(-45)" font-size="6.1" fill="#4d4d4d" text-anchor="end">Inhibitory neurons</text>
<rect x="640.60" y="455.50" width="11.9" height="0.90" fill="#595959" stroke="#000" stroke-width="0.8"/>
<line x1="646.55" y1="454.30" x2="646.55" y2="456.70" stroke="#000" stroke-width="0.6"/>
<circle cx="646.55" cy="455.50" r="1.45" fill="#000"/>
<line x1="646.55" y1="460.1" x2="646.55" y2="462.3" stroke="#333" stroke-width="0.6"/>
<text transform="translate(649.55,466.60) rotate(-45)" font-size="6.1" fill="#4d4d4d" text-anchor="end">Smooth muscle cells</text>
<rect x="656.55" y="455.80" width="11.9" height="0.60" fill="#595959" stroke="#000" stroke-width="0.8"/>
<line x1="662.50" y1="454.60" x2="662.50" y2="457.00" stroke="#000" stroke-width="0.6"/>
<circle cx="662.50" cy="455.80" r="1.45" fill="#000"/>
<line x1="662.50" y1="460.1" x2="662.50" y2="462.3" stroke="#333" stroke-width="0.6"/>
<text transform="translate(665.50,466.60) rotate(-45)" font-size="6.1" fill="#4d4d4d" text-anchor="end">Excitatory neurons</text>
<text x="601.8" y="393" font-size="7.9" fill="#1a1a1a" text-anchor="middle">Heat shock protein beta-3 (Hspb3)</text>
<text x="594.8" y="408.6" font-size="7.9" fill="#1a1a1a" text-anchor="middle">Specificity Score: 3.50</text>
<text transform="translate(492.4,416.5) rotate(-90)" font-size="7.37" fill="#1a1a1a" text-anchor="middle">Expression (nTPM)</text>
<line x1="316.3" y1="532.7" x2="316.3" y2="611.5" stroke="#000" stroke-width="1.1"/>
<line x1="316.3" y1="611.5" x2="475" y2="611.5" stroke="#000" stroke-width="1.1"/>
<line x1="314.1" y1="607.60" x2="316.3" y2="607.60" stroke="#333" stroke-width="0.6"/>
<text x="313.3" y="609.62" font-size="5.6" fill="#4d4d4d" text-anchor="end">0</text>
<line x1="314.1" y1="581.55" x2="316.3" y2="581.55" stroke="#333" stroke-width="0.6"/>
<text x="313.3" y="583.57" font-size="5.6" fill="#4d4d4d" text-anchor="end">20</text>
<line x1="314.1" y1="555.50" x2="316.3" y2="555.50" stroke="#333" stroke-width="0.6"/>
<text x="313.3" y="557.52" font-size="5.6" fill="#4d4d4d" text-anchor="end">40</text>
<rect x="320.20" y="538.05" width="11.1" height="69.55" fill="#595959" stroke="#000" stroke-width="0.8"/>
<line x1="325.75" y1="536.85" x2="325.75" y2="539.25" stroke="#000" stroke-width="0.6"/>
<circle cx="325.75" cy="538.05" r="1.45" fill="#000"/>
<line x1="325.75" y1="611.5" x2="325.75" y2="613.7" stroke="#333" stroke-width="0.6"/>
<text transform="translate(328.75,618.00) rotate(-45)" font-size="5.7" fill="#4d4d4d" text-anchor="end">Skeletal myocytes</text>
<rect x="335.70" y="592.36" width="11.1" height="15.24" fill="#595959" stroke="#000" stroke-width="0.8"/>
<line x1="341.25" y1="591.16" x2="341.25" y2="593.56" stroke="#000" stroke-width="0.6"/>
<circle cx="341.25" cy="592.36" r="1.45" fill="#000"/>
<line x1="341.25" y1="611.5" x2="341.25" y2="613.7" stroke="#333" stroke-width="0.6"/>
<text transform="translate(344.25,618.00) rotate(-45)" font-size="5.7" fill="#4d4d4d" text-anchor="end">Cardiomyocytes</text>
<rect x="351.20" y="594.31" width="11.1" height="13.29" fill="#595959" stroke="#000" stroke-width="0.8"/>
<line x1="356.75" y1="593.11" x2="356.75" y2="595.51" stroke="#000" stroke-width="0.6"/>
<circle cx="356.75" cy="594.31" r="1.45" fill="#000"/>
<line x1="356.75" y1="611.5" x2="356.75" y2="613.7" stroke="#333" stroke-width="0.6"/>
<text transform="translate(359.75,618.00) rotate(-45)" font-size="5.7" fill="#4d4d4d" text-anchor="end">Late spermatids</text>
<rect x="366.70" y="600.44" width="11.1" height="7.16" fill="#595959" stroke="#000" stroke-width="0.8"/>
<line x1="372.25" y1="599.24" x2="372.25" y2="601.64" stroke="#000" stroke-width="0.6"/>
<circle cx="372.25" cy="600.44" r="1.45" fill="#000"/>
<line x1="372.25" y1="611.5" x2="372.25" y2="613.7" stroke="#333" stroke-width="0.6"/>
<text transform="translate(375.25,618.00) rotate(-45)" font-size="5.7" fill="#4d4d4d" text-anchor="end">Astrocytes</text>
<rect x="382.20" y="602.13" width="11.1" height="5.47" fill="#595959" stroke="#000" stroke-width="0.8"/>
<line x1="387.75" y1="600.93" x2="387.75" y2="603.33" stroke="#000" stroke-width="0.6"/>
<circle cx="387.75" cy="602.13" r="1.45" fill="#000"/>
<line x1="387.75" y1="611.5" x2="387.75" y2="613.7" stroke="#333" stroke-width="0.6"/>
<text transform="translate(390.75,618.00) rotate(-45)" font-size="5.7" fill="#4d4d4d" text-anchor="end">Hepatocytes</text>
<rect x="397.70" y="602.39" width="11.1" height="5.21" fill="#595959" stroke="#000" stroke-width="0.8"/>
<line x1="403.25" y1="601.19" x2="403.25" y2="603.59" stroke="#000" stroke-width="0.6"/>
<circle cx="403.25" cy="602.39" r="1.45" fill="#000"/>
<line x1="403.25" y1="611.5" x2="403.25" y2="613.7" stroke="#333" stroke-width="0.6"/>
<text transform="translate(406.25,618.00) rotate(-45)" font-size="5.7" fill="#4d4d4d" text-anchor="end">Proximal tubular cells</text>
<rect x="413.20" y="602.39" width="11.1" height="5.21" fill="#595959" stroke="#000" stroke-width="0.8"/>
<line x1="418.75" y1="601.19" x2="418.75" y2="603.59" stroke="#000" stroke-width="0.6"/>
<circle cx="418.75" cy="602.39" r="1.45" fill="#000"/>
<line x1="418.75" y1="611.5" x2="418.75" y2="613.7" stroke="#333" stroke-width="0.6"/>
<text transform="translate(421.75,618.00) rotate(-45)" font-size="5.7" fill="#4d4d4d" text-anchor="end">Smooth muscle cells</text>
<rect x="428.70" y="603.69" width="11.1" height="3.91" fill="#595959" stroke="#000" stroke-width="0.8"/>
<line x1="434.25" y1="602.49" x2="434.25" y2="604.89" stroke="#000" stroke-width="0.6"/>
<circle cx="434.25" cy="603.69" r="1.45" fill="#000"/>
<line x1="434.25" y1="611.5" x2="434.25" y2="613.7" stroke="#333" stroke-width="0.6"/>
<text transform="translate(437.25,618.00) rotate(-45)" font-size="5.7" fill="#4d4d4d" text-anchor="end">Sertoli cells</text>
<rect x="444.20" y="605.00" width="11.1" height="2.60" fill="#595959" stroke="#000" stroke-width="0.8"/>
<line x1="449.75" y1="603.79" x2="449.75" y2="606.20" stroke="#000" stroke-width="0.6"/>
<circle cx="449.75" cy="605.00" r="1.45" fill="#000"/>
<line x1="449.75" y1="611.5" x2="449.75" y2="613.7" stroke="#333" stroke-width="0.6"/>
<text transform="translate(452.75,618.00) rotate(-45)" font-size="5.7" fill="#4d4d4d" text-anchor="end">Collecting duct cells</text>
<rect x="459.70" y="605.65" width="11.1" height="1.95" fill="#595959" stroke="#000" stroke-width="0.8"/>
<line x1="465.25" y1="604.45" x2="465.25" y2="606.85" stroke="#000" stroke-width="0.6"/>
<circle cx="465.25" cy="605.65" r="1.45" fill="#000"/>
<line x1="465.25" y1="611.5" x2="465.25" y2="613.7" stroke="#333" stroke-width="0.6"/>
<text transform="translate(468.25,618.00) rotate(-45)" font-size="5.7" fill="#4d4d4d" text-anchor="end">Spermatogonia</text>
<text x="408" y="551.9" font-size="7.9" fill="#1a1a1a" text-anchor="middle">Synaptophysin-like protein 2 (Sypl2)</text>
<text x="401.2" y="561.1" font-size="7.9" fill="#1a1a1a" text-anchor="middle">Specificity Score: 2.22</text>
<text transform="translate(300.2,572.4) rotate(-90)" font-size="7.07" fill="#1a1a1a" text-anchor="middle">Expression (nTPM)</text>
<line x1="507.7" y1="539.9" x2="507.7" y2="608.7" stroke="#222" stroke-width="0.95"/>
<line x1="507.7" y1="608.7" x2="685" y2="608.7" stroke="#222" stroke-width="0.95"/>
<line x1="505.5" y1="605.50" x2="507.7" y2="605.50" stroke="#333" stroke-width="0.6"/>
<text x="504.7" y="607.77" font-size="6.3" fill="#333" text-anchor="end">0</text>
<line x1="505.5" y1="591.45" x2="507.7" y2="591.45" stroke="#333" stroke-width="0.6"/>
<text x="504.7" y="593.72" font-size="6.3" fill="#333" text-anchor="end">100</text>
<line x1="505.5" y1="577.40" x2="507.7" y2="577.40" stroke="#333" stroke-width="0.6"/>
<text x="504.7" y="579.67" font-size="6.3" fill="#333" text-anchor="end">200</text>
<line x1="505.5" y1="563.35" x2="507.7" y2="563.35" stroke="#333" stroke-width="0.6"/>
<text x="504.7" y="565.62" font-size="6.3" fill="#333" text-anchor="end">300</text>
<line x1="505.5" y1="549.30" x2="507.7" y2="549.30" stroke="#333" stroke-width="0.6"/>
<text x="504.7" y="551.57" font-size="6.3" fill="#333" text-anchor="end">400</text>
<rect x="511.70" y="545.51" width="12.6" height="59.99" fill="#595959" stroke="#000" stroke-width="0.8"/>
<line x1="518.00" y1="544.31" x2="518.00" y2="546.71" stroke="#000" stroke-width="0.6"/>
<circle cx="518.00" cy="545.51" r="1.45" fill="#000"/>
<line x1="518.00" y1="608.7" x2="518.00" y2="610.9000000000001" stroke="#333" stroke-width="0.6"/>
<text transform="translate(521.40,615.80) rotate(-45)" font-size="6.5" fill="#4d4d4d" text-anchor="end">Cardiomyocytes</text>
<rect x="529.10" y="580.35" width="12.6" height="25.15" fill="#595959" stroke="#000" stroke-width="0.8"/>
<line x1="535.40" y1="579.15" x2="535.40" y2="581.55" stroke="#000" stroke-width="0.6"/>
<circle cx="535.40" cy="580.35" r="1.45" fill="#000"/>
<line x1="535.40" y1="608.7" x2="535.40" y2="610.9000000000001" stroke="#333" stroke-width="0.6"/>
<text transform="translate(538.80,615.80) rotate(-45)" font-size="6.5" fill="#4d4d4d" text-anchor="end">Skeletal myocytes</text>
<rect x="546.50" y="591.03" width="12.6" height="14.47" fill="#595959" stroke="#000" stroke-width="0.8"/>
<line x1="552.80" y1="589.83" x2="552.80" y2="592.23" stroke="#000" stroke-width="0.6"/>
<circle cx="552.80" cy="591.03" r="1.45" fill="#000"/>
<line x1="552.80" y1="608.7" x2="552.80" y2="610.9000000000001" stroke="#333" stroke-width="0.6"/>
<text transform="translate(556.20,615.80) rotate(-45)" font-size="6.5" fill="#4d4d4d" text-anchor="end">Excitatory neurons</text>
<rect x="563.90" y="591.31" width="12.6" height="14.19" fill="#595959" stroke="#000" stroke-width="0.8"/>
<line x1="570.20" y1="590.11" x2="570.20" y2="592.51" stroke="#000" stroke-width="0.6"/>
<circle cx="570.20" cy="591.31" r="1.45" fill="#000"/>
<line x1="570.20" y1="608.7" x2="570.20" y2="610.9000000000001" stroke="#333" stroke-width="0.6"/>
<text transform="translate(573.60,615.80) rotate(-45)" font-size="6.5" fill="#4d4d4d" text-anchor="end">Astrocytes</text>
<rect x="581.30" y="594.26" width="12.6" height="11.24" fill="#595959" stroke="#000" stroke-width="0.8"/>
<line x1="587.60" y1="593.06" x2="587.60" y2="595.46" stroke="#000" stroke-width="0.6"/>
<circle cx="587.60" cy="594.26" r="1.45" fill="#000"/>
<line x1="587.60" y1="608.7" x2="587.60" y2="610.9000000000001" stroke="#333" stroke-width="0.6"/>
<text transform="translate(591.00,615.80) rotate(-45)" font-size="6.5" fill="#4d4d4d" text-anchor="end">Oligodendrocyte precursor cells</text>
<rect x="598.70" y="594.54" width="12.6" height="10.96" fill="#595959" stroke="#000" stroke-width="0.8"/>
<line x1="605.00" y1="593.34" x2="605.00" y2="595.74" stroke="#000" stroke-width="0.6"/>
<circle cx="605.00" cy="594.54" r="1.45" fill="#000"/>
<line x1="605.00" y1="608.7" x2="605.00" y2="610.9000000000001" stroke="#333" stroke-width="0.6"/>
<text transform="translate(608.40,615.80) rotate(-45)" font-size="6.5" fill="#4d4d4d" text-anchor="end">Inhibitory neurons</text>
<rect x="616.10" y="595.66" width="12.6" height="9.84" fill="#595959" stroke="#000" stroke-width="0.8"/>
<line x1="622.40" y1="594.46" x2="622.40" y2="596.87" stroke="#000" stroke-width="0.6"/>
<circle cx="622.40" cy="595.66" r="1.45" fill="#000"/>
<line x1="622.40" y1="608.7" x2="622.40" y2="610.9000000000001" stroke="#333" stroke-width="0.6"/>
<text transform="translate(625.80,615.80) rotate(-45)" font-size="6.5" fill="#4d4d4d" text-anchor="end">Muller glia cells</text>
<rect x="633.50" y="598.19" width="12.6" height="7.31" fill="#595959" stroke="#000" stroke-width="0.8"/>
<line x1="639.80" y1="596.99" x2="639.80" y2="599.39" stroke="#000" stroke-width="0.6"/>
<circle cx="639.80" cy="598.19" r="1.45" fill="#000"/>
<line x1="639.80" y1="608.7" x2="639.80" y2="610.9000000000001" stroke="#333" stroke-width="0.6"/>
<text transform="translate(643.20,615.80) rotate(-45)" font-size="6.5" fill="#4d4d4d" text-anchor="end">Horizontal cells</text>
<rect x="650.90" y="601.43" width="12.6" height="4.07" fill="#595959" stroke="#000" stroke-width="0.8"/>
<line x1="657.20" y1="600.23" x2="657.20" y2="602.63" stroke="#000" stroke-width="0.6"/>
<circle cx="657.20" cy="601.43" r="1.45" fill="#000"/>
<line x1="657.20" y1="608.7" x2="657.20" y2="610.9000000000001" stroke="#333" stroke-width="0.6"/>
<text transform="translate(660.60,615.80) rotate(-45)" font-size="6.5" fill="#4d4d4d" text-anchor="end">Bipolar cells</text>
<rect x="668.30" y="602.55" width="12.6" height="2.95" fill="#595959" stroke="#000" stroke-width="0.8"/>
<line x1="674.60" y1="601.35" x2="674.60" y2="603.75" stroke="#000" stroke-width="0.6"/>
<circle cx="674.60" cy="602.55" r="1.45" fill="#000"/>
<line x1="674.60" y1="608.7" x2="674.60" y2="610.9000000000001" stroke="#333" stroke-width="0.6"/>
<text transform="translate(678.00,615.80) rotate(-45)" font-size="6.5" fill="#4d4d4d" text-anchor="end">Prostatic glandular cells</text>
<text x="586.4" y="545.8" font-size="7.9" fill="#1a1a1a" text-anchor="middle">cAMP-dependent protein</text>
<text x="588.6" y="554" font-size="7.9" fill="#1a1a1a" text-anchor="middle">kinase inhibitor alpha (Pkia)</text>
<text x="589" y="565.6" font-size="7.9" fill="#1a1a1a" text-anchor="middle">Specificity Score: 2.03</text>
<text transform="translate(489.4,576.3) rotate(-90)" font-size="7.94" fill="#1a1a1a" text-anchor="middle">Expression (nTPM)</text>
<text x="0.3" y="10.8" font-size="15.2" font-weight="bold" fill="#1a1a1a">A</text>
<text x="298.8" y="10.8" font-size="15.2" font-weight="bold" fill="#1a1a1a">B</text>
<text x="0.3" y="167.7" font-size="15.2" font-weight="bold" fill="#1a1a1a">C</text>
<text x="-0.4" y="371.7" font-size="15.2" font-weight="bold" fill="#1a1a1a">D</text>
<text x="292.3" y="371.8" font-size="15.2" font-weight="bold" fill="#1a1a1a">E</text>
<text x="476.2" y="360.6" font-size="15.2" font-weight="bold" fill="#1a1a1a">F</text>
<text x="291.4" y="516.7" font-size="15.2" font-weight="bold" fill="#1a1a1a">G</text>
<text x="475.3" y="522.5" font-size="15.2" font-weight="bold" fill="#1a1a1a">H</text>
</svg></body></html>
